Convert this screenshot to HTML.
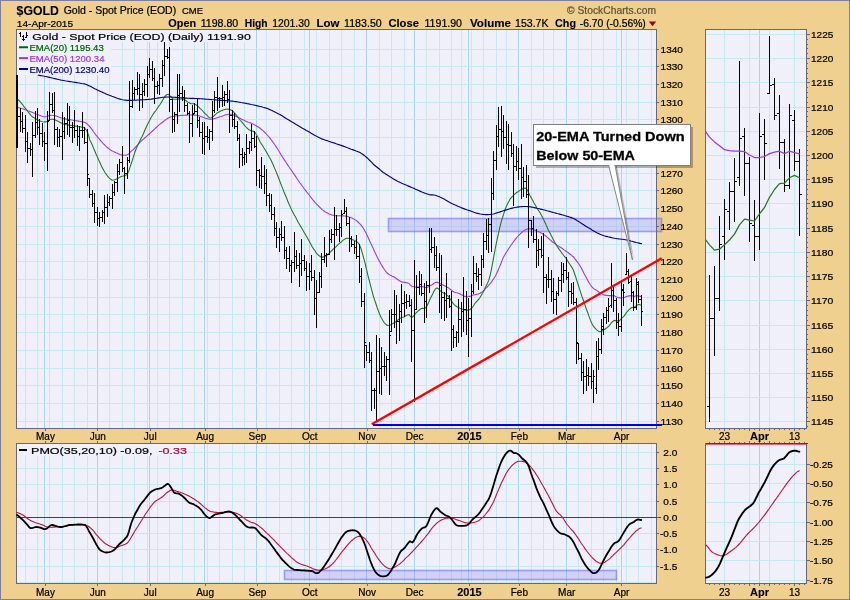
<!DOCTYPE html><html><head><meta charset="utf-8"><title>$GOLD Gold - Spot Price (EOD)</title><style>html,body{margin:0;padding:0;background:#efd08f;overflow:hidden}</style></head><body><svg width="850" height="600" viewBox="0 0 850 600" style="display:block;font-family:'Liberation Sans',sans-serif">
<rect x="0" y="0" width="850" height="600" fill="#7e7e9e"/>
<rect x="1" y="1" width="848" height="598" fill="#efd08f"/>
<rect x="16" y="29" width="641" height="400" fill="#f0f0fa" />
<rect x="16" y="443" width="641" height="141" fill="#f0f0fa" />
<rect x="705" y="29" width="102" height="400" fill="#f0f0fa" />
<rect x="705" y="443" width="102" height="141" fill="#f0f0fa" />
<rect x="25" y="30" width="1" height="398" fill="#c6e9f0" />
<rect x="37" y="30" width="1" height="398" fill="#c6e9f0" />
<rect x="49" y="30" width="1" height="398" fill="#c6e9f0" />
<rect x="62" y="30" width="1" height="398" fill="#c6e9f0" />
<rect x="74" y="30" width="1" height="398" fill="#c6e9f0" />
<rect x="87" y="30" width="1" height="398" fill="#c6e9f0" />
<rect x="97" y="30" width="1" height="398" fill="#c6e9f0" />
<rect x="109" y="30" width="1" height="398" fill="#c6e9f0" />
<rect x="122" y="30" width="1" height="398" fill="#c6e9f0" />
<rect x="134" y="30" width="1" height="398" fill="#c6e9f0" />
<rect x="147" y="30" width="1" height="398" fill="#c6e9f0" />
<rect x="157" y="30" width="1" height="398" fill="#c6e9f0" />
<rect x="169" y="30" width="1" height="398" fill="#c6e9f0" />
<rect x="182" y="30" width="1" height="398" fill="#c6e9f0" />
<rect x="194" y="30" width="1" height="398" fill="#c6e9f0" />
<rect x="207" y="30" width="1" height="398" fill="#c6e9f0" />
<rect x="219" y="30" width="1" height="398" fill="#c6e9f0" />
<rect x="232" y="30" width="1" height="398" fill="#c6e9f0" />
<rect x="244" y="30" width="1" height="398" fill="#c6e9f0" />
<rect x="256" y="30" width="1" height="398" fill="#c6e9f0" />
<rect x="266" y="30" width="1" height="398" fill="#c6e9f0" />
<rect x="279" y="30" width="1" height="398" fill="#c6e9f0" />
<rect x="291" y="30" width="1" height="398" fill="#c6e9f0" />
<rect x="304" y="30" width="1" height="398" fill="#c6e9f0" />
<rect x="316" y="30" width="1" height="398" fill="#c6e9f0" />
<rect x="329" y="30" width="1" height="398" fill="#c6e9f0" />
<rect x="341" y="30" width="1" height="398" fill="#c6e9f0" />
<rect x="354" y="30" width="1" height="398" fill="#c6e9f0" />
<rect x="366" y="30" width="1" height="398" fill="#c6e9f0" />
<rect x="379" y="30" width="1" height="398" fill="#c6e9f0" />
<rect x="391" y="30" width="1" height="398" fill="#c6e9f0" />
<rect x="404" y="30" width="1" height="398" fill="#c6e9f0" />
<rect x="414" y="30" width="1" height="398" fill="#c6e9f0" />
<rect x="426" y="30" width="1" height="398" fill="#c6e9f0" />
<rect x="439" y="30" width="1" height="398" fill="#c6e9f0" />
<rect x="451" y="30" width="1" height="398" fill="#c6e9f0" />
<rect x="461" y="30" width="1" height="398" fill="#c6e9f0" />
<rect x="471" y="30" width="1" height="398" fill="#c6e9f0" />
<rect x="483" y="30" width="1" height="398" fill="#c6e9f0" />
<rect x="496" y="30" width="1" height="398" fill="#c6e9f0" />
<rect x="506" y="30" width="1" height="398" fill="#c6e9f0" />
<rect x="518" y="30" width="1" height="398" fill="#c6e9f0" />
<rect x="531" y="30" width="1" height="398" fill="#c6e9f0" />
<rect x="543" y="30" width="1" height="398" fill="#c6e9f0" />
<rect x="553" y="30" width="1" height="398" fill="#c6e9f0" />
<rect x="566" y="30" width="1" height="398" fill="#c6e9f0" />
<rect x="578" y="30" width="1" height="398" fill="#c6e9f0" />
<rect x="591" y="30" width="1" height="398" fill="#c6e9f0" />
<rect x="603" y="30" width="1" height="398" fill="#c6e9f0" />
<rect x="616" y="30" width="1" height="398" fill="#c6e9f0" />
<rect x="626" y="30" width="1" height="398" fill="#c6e9f0" />
<rect x="638" y="30" width="1" height="398" fill="#c6e9f0" />
<rect x="651" y="30" width="1" height="398" fill="#c6e9f0" />
<rect x="44" y="30" width="1" height="398" fill="#a4d4ee" />
<rect x="97" y="30" width="1" height="398" fill="#a4d4ee" />
<rect x="149" y="30" width="1" height="398" fill="#a4d4ee" />
<rect x="204" y="30" width="1" height="398" fill="#a4d4ee" />
<rect x="256" y="30" width="1" height="398" fill="#a4d4ee" />
<rect x="309" y="30" width="1" height="398" fill="#a4d4ee" />
<rect x="366" y="30" width="1" height="398" fill="#a4d4ee" />
<rect x="414" y="30" width="1" height="398" fill="#a4d4ee" />
<rect x="468" y="30" width="1" height="398" fill="#a4d4ee" />
<rect x="518" y="30" width="1" height="398" fill="#a4d4ee" />
<rect x="566" y="30" width="1" height="398" fill="#a4d4ee" />
<rect x="621" y="30" width="1" height="398" fill="#a4d4ee" />
<rect x="25" y="444" width="1" height="139" fill="#c6e9f0" />
<rect x="37" y="444" width="1" height="139" fill="#c6e9f0" />
<rect x="49" y="444" width="1" height="139" fill="#c6e9f0" />
<rect x="62" y="444" width="1" height="139" fill="#c6e9f0" />
<rect x="74" y="444" width="1" height="139" fill="#c6e9f0" />
<rect x="87" y="444" width="1" height="139" fill="#c6e9f0" />
<rect x="97" y="444" width="1" height="139" fill="#c6e9f0" />
<rect x="109" y="444" width="1" height="139" fill="#c6e9f0" />
<rect x="122" y="444" width="1" height="139" fill="#c6e9f0" />
<rect x="134" y="444" width="1" height="139" fill="#c6e9f0" />
<rect x="147" y="444" width="1" height="139" fill="#c6e9f0" />
<rect x="157" y="444" width="1" height="139" fill="#c6e9f0" />
<rect x="169" y="444" width="1" height="139" fill="#c6e9f0" />
<rect x="182" y="444" width="1" height="139" fill="#c6e9f0" />
<rect x="194" y="444" width="1" height="139" fill="#c6e9f0" />
<rect x="207" y="444" width="1" height="139" fill="#c6e9f0" />
<rect x="219" y="444" width="1" height="139" fill="#c6e9f0" />
<rect x="232" y="444" width="1" height="139" fill="#c6e9f0" />
<rect x="244" y="444" width="1" height="139" fill="#c6e9f0" />
<rect x="256" y="444" width="1" height="139" fill="#c6e9f0" />
<rect x="266" y="444" width="1" height="139" fill="#c6e9f0" />
<rect x="279" y="444" width="1" height="139" fill="#c6e9f0" />
<rect x="291" y="444" width="1" height="139" fill="#c6e9f0" />
<rect x="304" y="444" width="1" height="139" fill="#c6e9f0" />
<rect x="316" y="444" width="1" height="139" fill="#c6e9f0" />
<rect x="329" y="444" width="1" height="139" fill="#c6e9f0" />
<rect x="341" y="444" width="1" height="139" fill="#c6e9f0" />
<rect x="354" y="444" width="1" height="139" fill="#c6e9f0" />
<rect x="366" y="444" width="1" height="139" fill="#c6e9f0" />
<rect x="379" y="444" width="1" height="139" fill="#c6e9f0" />
<rect x="391" y="444" width="1" height="139" fill="#c6e9f0" />
<rect x="404" y="444" width="1" height="139" fill="#c6e9f0" />
<rect x="414" y="444" width="1" height="139" fill="#c6e9f0" />
<rect x="426" y="444" width="1" height="139" fill="#c6e9f0" />
<rect x="439" y="444" width="1" height="139" fill="#c6e9f0" />
<rect x="451" y="444" width="1" height="139" fill="#c6e9f0" />
<rect x="461" y="444" width="1" height="139" fill="#c6e9f0" />
<rect x="471" y="444" width="1" height="139" fill="#c6e9f0" />
<rect x="483" y="444" width="1" height="139" fill="#c6e9f0" />
<rect x="496" y="444" width="1" height="139" fill="#c6e9f0" />
<rect x="506" y="444" width="1" height="139" fill="#c6e9f0" />
<rect x="518" y="444" width="1" height="139" fill="#c6e9f0" />
<rect x="531" y="444" width="1" height="139" fill="#c6e9f0" />
<rect x="543" y="444" width="1" height="139" fill="#c6e9f0" />
<rect x="553" y="444" width="1" height="139" fill="#c6e9f0" />
<rect x="566" y="444" width="1" height="139" fill="#c6e9f0" />
<rect x="578" y="444" width="1" height="139" fill="#c6e9f0" />
<rect x="591" y="444" width="1" height="139" fill="#c6e9f0" />
<rect x="603" y="444" width="1" height="139" fill="#c6e9f0" />
<rect x="616" y="444" width="1" height="139" fill="#c6e9f0" />
<rect x="626" y="444" width="1" height="139" fill="#c6e9f0" />
<rect x="638" y="444" width="1" height="139" fill="#c6e9f0" />
<rect x="651" y="444" width="1" height="139" fill="#c6e9f0" />
<rect x="44" y="444" width="1" height="139" fill="#a4d4ee" />
<rect x="97" y="444" width="1" height="139" fill="#a4d4ee" />
<rect x="149" y="444" width="1" height="139" fill="#a4d4ee" />
<rect x="204" y="444" width="1" height="139" fill="#a4d4ee" />
<rect x="256" y="444" width="1" height="139" fill="#a4d4ee" />
<rect x="309" y="444" width="1" height="139" fill="#a4d4ee" />
<rect x="366" y="444" width="1" height="139" fill="#a4d4ee" />
<rect x="414" y="444" width="1" height="139" fill="#a4d4ee" />
<rect x="468" y="444" width="1" height="139" fill="#a4d4ee" />
<rect x="518" y="444" width="1" height="139" fill="#a4d4ee" />
<rect x="566" y="444" width="1" height="139" fill="#a4d4ee" />
<rect x="621" y="444" width="1" height="139" fill="#a4d4ee" />
<rect x="17" y="421" width="639" height="1" fill="#c6e9f0" />
<rect x="17" y="403" width="639" height="1" fill="#c6e9f0" />
<rect x="17" y="385" width="639" height="1" fill="#c6e9f0" />
<rect x="17" y="368" width="639" height="1" fill="#c6e9f0" />
<rect x="17" y="350" width="639" height="1" fill="#c6e9f0" />
<rect x="17" y="332" width="639" height="1" fill="#c6e9f0" />
<rect x="17" y="314" width="639" height="1" fill="#c6e9f0" />
<rect x="17" y="297" width="639" height="1" fill="#c6e9f0" />
<rect x="17" y="279" width="639" height="1" fill="#c6e9f0" />
<rect x="17" y="261" width="639" height="1" fill="#c6e9f0" />
<rect x="17" y="244" width="639" height="1" fill="#c6e9f0" />
<rect x="17" y="226" width="639" height="1" fill="#c6e9f0" />
<rect x="17" y="208" width="639" height="1" fill="#c6e9f0" />
<rect x="17" y="190" width="639" height="1" fill="#c6e9f0" />
<rect x="17" y="173" width="639" height="1" fill="#c6e9f0" />
<rect x="17" y="155" width="639" height="1" fill="#c6e9f0" />
<rect x="17" y="137" width="639" height="1" fill="#c6e9f0" />
<rect x="17" y="119" width="639" height="1" fill="#c6e9f0" />
<rect x="17" y="102" width="639" height="1" fill="#c6e9f0" />
<rect x="17" y="84" width="639" height="1" fill="#c6e9f0" />
<rect x="17" y="66" width="639" height="1" fill="#c6e9f0" />
<rect x="17" y="49" width="639" height="1" fill="#c6e9f0" />
<rect x="17" y="452" width="639" height="1" fill="#c6e9f0" />
<rect x="17" y="468" width="639" height="1" fill="#c6e9f0" />
<rect x="17" y="484" width="639" height="1" fill="#c6e9f0" />
<rect x="17" y="501" width="639" height="1" fill="#c6e9f0" />
<rect x="17" y="533" width="639" height="1" fill="#c6e9f0" />
<rect x="17" y="549" width="639" height="1" fill="#c6e9f0" />
<rect x="17" y="566" width="639" height="1" fill="#c6e9f0" />
<rect x="17" y="582" width="639" height="1" fill="#c6e9f0" />
<rect x="724" y="30" width="1" height="398" fill="#c6e9f0" />
<rect x="749" y="30" width="1" height="398" fill="#c6e9f0" />
<rect x="769" y="30" width="1" height="398" fill="#c6e9f0" />
<rect x="794" y="30" width="1" height="398" fill="#c6e9f0" />
<rect x="759" y="30" width="1" height="398" fill="#a4d4ee" />
<rect x="724" y="444" width="1" height="139" fill="#c6e9f0" />
<rect x="749" y="444" width="1" height="139" fill="#c6e9f0" />
<rect x="769" y="444" width="1" height="139" fill="#c6e9f0" />
<rect x="794" y="444" width="1" height="139" fill="#c6e9f0" />
<rect x="759" y="444" width="1" height="139" fill="#a4d4ee" />
<rect x="706" y="421" width="100" height="1" fill="#c6e9f0" />
<rect x="706" y="397" width="100" height="1" fill="#c6e9f0" />
<rect x="706" y="373" width="100" height="1" fill="#c6e9f0" />
<rect x="706" y="349" width="100" height="1" fill="#c6e9f0" />
<rect x="706" y="325" width="100" height="1" fill="#c6e9f0" />
<rect x="706" y="300" width="100" height="1" fill="#c6e9f0" />
<rect x="706" y="276" width="100" height="1" fill="#c6e9f0" />
<rect x="706" y="252" width="100" height="1" fill="#c6e9f0" />
<rect x="706" y="228" width="100" height="1" fill="#c6e9f0" />
<rect x="706" y="203" width="100" height="1" fill="#c6e9f0" />
<rect x="706" y="179" width="100" height="1" fill="#c6e9f0" />
<rect x="706" y="155" width="100" height="1" fill="#c6e9f0" />
<rect x="706" y="131" width="100" height="1" fill="#c6e9f0" />
<rect x="706" y="107" width="100" height="1" fill="#c6e9f0" />
<rect x="706" y="82" width="100" height="1" fill="#c6e9f0" />
<rect x="706" y="58" width="100" height="1" fill="#c6e9f0" />
<rect x="706" y="34" width="100" height="1" fill="#c6e9f0" />
<rect x="706" y="464" width="100" height="1" fill="#c6e9f0" />
<rect x="706" y="483" width="100" height="1" fill="#c6e9f0" />
<rect x="706" y="502" width="100" height="1" fill="#c6e9f0" />
<rect x="706" y="522" width="100" height="1" fill="#c6e9f0" />
<rect x="706" y="541" width="100" height="1" fill="#c6e9f0" />
<rect x="706" y="560" width="100" height="1" fill="#c6e9f0" />
<rect x="706" y="580" width="100" height="1" fill="#c6e9f0" />
<rect x="17" y="30" width="236" height="12" fill="#f0f0fa" />
<rect x="17" y="42" width="94" height="33" fill="#f0f0fa" />
<rect x="17" y="444" width="172" height="12" fill="#f0f0fa" />
<rect x="388.5" y="218.5" width="273" height="13" fill="#8c8cf4" fill-opacity="0.30" stroke="#6c6cf0" stroke-opacity="0.6" stroke-width="1.6"/>
<rect x="284.5" y="570.5" width="332" height="9" fill="#8c8cf4" fill-opacity="0.30" stroke="#6c6cf0" stroke-opacity="0.6" stroke-width="1.6"/>
<rect x="16.5" y="29.5" width="640" height="399" fill="none" stroke="#666680" stroke-width="1"/>
<rect x="16.5" y="443.5" width="640" height="140" fill="none" stroke="#666680" stroke-width="1"/>
<rect x="705.5" y="29.5" width="101" height="399" fill="none" stroke="#666680" stroke-width="1"/>
<rect x="705.5" y="443.5" width="101" height="140" fill="none" stroke="#666680" stroke-width="1"/>
<polyline points="17.3,107.5 18.6,107.7 20.0,108.1 21.3,108.4 22.7,108.8 24.0,109.3 25.3,109.8 26.7,110.2 28.0,110.7 29.4,111.2 30.7,111.7 32.0,112.2 33.4,112.8 34.7,113.3 36.0,113.9 37.4,114.5 38.7,115.1 40.0,115.6 41.3,116.1 42.7,116.5 44.0,116.7 45.4,116.8 46.8,116.5 48.1,116.1 49.5,115.6 50.9,115.3 52.3,115.3 53.6,115.5 54.9,115.7 56.2,116.1 57.5,116.5 58.8,117.0 60.1,117.4 61.4,117.9 62.7,118.3 64.0,118.7 65.3,118.9 66.6,119.2 67.9,119.4 69.2,119.6 70.5,119.8 71.8,120.0 73.2,120.3 74.5,120.5 75.8,120.7 77.1,120.9 78.4,121.1 79.7,121.3 81.0,121.5 82.3,121.7 83.5,122.1 84.8,122.4 86.0,122.9 87.3,124.2 88.5,125.3 89.8,126.7 91.0,128.2 92.3,129.9 93.5,131.7 94.8,133.5 96.0,135.2 97.3,136.7 98.5,138.2 99.8,139.6 101.0,141.1 102.3,142.5 103.5,143.9 104.8,145.2 106.0,146.4 107.3,147.5 108.5,148.5 109.8,149.4 111.0,150.2 112.3,150.9 113.5,151.6 114.8,152.2 116.0,152.8 117.3,153.3 118.7,153.9 120.1,154.5 121.5,154.9 122.9,155.2 124.3,155.3 125.7,155.3 127.4,154.8 129.0,153.6 130.7,151.7 131.9,150.7 133.2,149.6 134.4,148.3 135.7,147.0 136.9,145.6 138.2,144.2 139.4,142.9 140.7,141.7 142.0,140.4 143.4,139.2 144.7,138.0 146.0,136.9 147.3,135.7 148.7,134.5 150.0,133.3 151.2,132.2 152.5,131.0 153.8,129.8 155.0,128.7 156.2,127.5 157.5,126.3 158.8,125.2 160.0,124.2 161.2,123.2 162.5,122.2 163.8,121.2 165.0,120.2 166.2,119.4 167.5,118.5 168.8,117.8 170.0,117.2 171.3,116.8 172.7,116.5 174.0,116.2 175.3,116.0 176.7,115.8 178.0,115.7 179.3,115.6 180.6,115.5 182.0,115.4 183.3,115.3 184.6,115.2 186.0,115.1 187.3,115.1 188.7,115.0 190.0,115.0 191.3,115.0 192.7,115.0 194.0,115.1 195.4,115.2 196.7,115.3 198.1,115.6 199.5,116.1 200.8,116.6 202.2,117.1 203.6,117.6 205.0,118.0 206.3,118.4 207.7,118.8 209.0,119.1 210.4,119.2 211.7,119.2 213.1,119.0 214.5,118.6 215.8,118.2 217.2,117.7 218.6,117.2 220.0,116.7 221.2,116.4 222.5,116.0 223.8,115.5 225.0,115.1 226.2,114.8 227.5,114.5 228.8,114.3 230.0,114.2 231.3,114.4 232.7,114.8 234.0,115.3 235.4,116.0 236.7,116.7 238.1,117.3 239.5,118.0 240.8,118.7 242.2,119.4 243.6,120.1 245.0,120.8 246.4,121.4 247.8,122.0 249.2,122.5 250.5,123.0 251.9,123.6 253.3,124.2 254.6,124.9 256.0,125.7 257.3,126.5 258.7,127.3 260.0,128.3 261.3,129.3 262.7,130.4 264.0,131.6 265.4,133.0 266.7,134.5 268.1,136.0 269.5,137.6 270.9,139.3 272.2,141.1 273.6,143.0 275.0,145.0 276.4,147.1 277.8,149.3 279.1,151.5 280.5,153.8 281.9,156.1 283.3,158.3 284.7,160.4 286.1,162.5 287.5,164.6 288.9,166.7 290.3,168.7 291.7,170.8 293.1,172.9 294.5,174.9 295.9,176.9 297.2,179.0 298.6,181.0 300.0,183.0 301.3,184.7 302.6,186.5 303.9,188.3 305.3,190.1 306.6,191.8 307.9,193.4 309.2,195.0 310.4,196.7 311.7,198.3 312.9,199.9 314.2,201.4 315.4,202.8 316.7,204.2 318.1,205.6 319.5,207.0 320.9,208.3 322.2,209.6 323.6,210.7 325.0,211.7 326.4,212.6 327.8,213.3 329.1,213.9 330.5,214.5 331.9,214.9 333.3,215.3 334.7,215.6 336.1,215.7 337.5,215.7 338.9,215.7 340.3,215.7 341.7,215.8 343.0,215.9 344.3,216.0 345.7,216.1 347.0,216.3 348.3,216.7 349.7,217.2 351.1,217.7 352.5,218.3 353.9,219.1 355.3,219.9 356.7,220.8 358.0,222.0 359.3,223.3 360.7,224.7 362.0,226.4 363.3,228.3 364.6,230.5 366.0,233.0 367.3,235.8 368.7,238.7 370.0,241.7 371.4,244.4 372.8,247.4 374.1,250.5 375.5,253.5 376.9,256.5 378.3,259.2 379.7,261.8 381.1,264.3 382.5,266.6 383.9,268.8 385.3,270.8 386.7,272.5 388.1,273.8 389.5,274.8 390.9,275.6 392.2,276.2 393.6,276.8 395.0,277.5 396.3,278.5 397.7,279.5 399.0,280.5 400.4,281.3 401.7,281.9 404.0,282.2 405.2,282.4 406.5,282.7 407.8,283.1 409.0,283.5 410.2,284.8 411.5,286.0 412.8,286.4 414.0,286.8 415.2,287.1 416.5,287.2 417.8,287.1 419.0,286.9 420.2,286.6 421.5,286.5 422.8,286.7 424.0,287.1 425.2,287.5 426.5,287.5 427.8,287.1 429.0,286.5 430.2,285.7 431.5,285.0 432.8,284.2 434.0,283.3 435.2,282.6 436.5,282.2 437.8,282.4 439.0,282.9 440.2,283.7 441.5,284.4 443.1,285.1 444.6,285.8 446.1,286.6 447.7,287.5 449.0,288.3 450.2,289.3 451.5,290.3 452.7,291.2 454.0,291.9 455.4,292.5 456.9,292.8 458.3,293.3 459.7,293.8 461.1,294.5 462.5,295.2 463.9,295.9 465.3,296.4 466.7,296.7 468.0,296.7 469.3,296.4 470.7,295.9 472.0,295.4 473.3,295.0 474.6,294.7 476.0,294.4 477.3,294.2 478.7,293.8 480.0,293.3 481.2,292.5 482.5,291.6 483.8,290.5 485.0,289.2 486.3,287.9 487.7,286.5 489.0,284.9 490.4,283.3 491.7,281.7 492.9,279.8 494.2,278.0 495.4,275.9 496.7,273.3 498.0,270.6 499.3,267.4 500.7,264.0 502.0,260.6 503.3,257.5 504.7,255.1 506.1,252.8 507.5,250.5 508.9,248.3 510.3,246.2 511.7,244.2 513.1,242.3 514.5,240.4 515.9,238.7 517.2,237.0 518.6,235.5 520.0,234.2 521.3,232.8 522.7,231.6 524.0,230.6 525.4,229.8 526.7,229.2 528.0,228.9 529.3,228.8 530.7,228.9 532.0,229.3 533.3,229.7 534.5,230.0 535.8,230.5 537.0,230.9 538.3,231.5 539.5,232.1 540.8,232.7 542.0,233.4 543.3,234.2 544.5,235.1 545.8,236.0 547.0,237.1 548.3,238.2 549.5,239.3 550.8,240.4 552.0,241.5 553.3,242.5 554.5,243.4 555.8,244.3 557.0,245.1 558.3,245.9 559.5,246.7 560.8,247.5 562.0,248.3 563.3,249.2 564.5,250.1 565.8,251.0 567.0,251.9 568.3,252.8 569.5,253.7 570.8,254.7 572.0,255.7 573.3,256.7 574.6,258.4 576.0,260.1 577.3,261.8 578.7,263.7 580.0,265.8 581.3,268.1 582.7,270.7 584.0,273.4 585.4,276.0 586.7,278.3 588.0,280.9 589.4,283.2 590.7,285.3 592.0,287.0 593.6,288.6 595.1,289.6 596.7,290.4 599.1,292.2 601.6,293.6 604.1,295.1 606.6,295.4 609.1,295.6 611.6,295.6 614.1,295.8 616.6,297.0 619.1,297.9 621.6,297.9 624.1,297.5 626.6,296.5 629.1,295.9 631.6,295.6 634.1,296.5 636.6,295.6 639.1,296.1 641.5,296.6" fill="none" stroke="#9a38ee" stroke-width="1.08" stroke-linejoin="round" stroke-linecap="round" />
<polyline points="17.3,99.2 18.6,100.2 20.0,101.5 21.3,103.2 22.7,104.9 24.0,106.7 25.4,108.3 26.8,110.0 28.1,111.8 29.5,113.6 30.9,115.3 32.3,116.7 33.6,117.5 34.9,118.3 36.2,119.1 37.5,119.8 38.8,120.5 40.1,121.0 41.4,121.5 42.7,121.8 44.0,122.0 45.4,121.9 46.8,121.4 48.1,120.6 49.5,119.9 50.9,119.3 52.3,119.2 53.6,119.4 54.9,119.8 56.2,120.4 57.5,121.0 58.8,121.7 60.1,122.4 61.4,123.1 62.7,123.7 64.0,124.2 65.2,124.5 66.5,124.7 67.8,124.9 69.0,125.1 70.2,125.3 71.5,125.5 72.8,125.7 74.0,125.9 75.2,126.1 76.5,126.3 77.8,126.5 79.0,126.7 80.2,126.8 81.5,127.1 82.8,127.3 84.0,127.5 85.7,129.3 87.3,131.7 88.5,135.1 89.8,140.0 91.0,142.3 92.3,145.0 93.5,148.0 94.8,151.0 96.0,154.0 97.3,156.7 98.6,159.8 100.0,162.8 101.3,165.7 102.7,168.4 104.0,170.8 105.3,173.0 106.7,174.9 108.0,176.7 109.4,178.1 110.7,179.2 112.3,180.3 114.0,180.0 115.3,179.6 116.7,178.9 118.0,178.2 119.4,177.4 120.7,176.7 122.0,176.3 123.3,176.0 124.7,175.6 126.0,175.1 127.3,174.2 129.0,170.4 130.7,165.0 131.9,161.6 133.2,157.6 134.4,153.6 135.7,150.0 136.9,147.1 138.2,144.6 139.4,142.1 140.7,139.0 142.1,136.4 143.5,133.5 144.8,130.3 146.2,127.2 147.6,124.3 149.0,121.7 150.3,119.0 151.7,116.6 153.0,114.4 154.4,112.4 155.7,110.8 157.0,108.8 158.3,106.7 159.7,105.0 161.1,102.8 162.5,100.4 163.9,98.0 165.3,96.0 166.7,94.7 168.3,94.3 170.0,95.8 171.7,97.6 173.3,99.2 174.6,99.3 175.8,99.3 177.1,99.3 178.3,99.2 179.6,99.0 180.8,99.0 182.1,99.0 183.3,99.2 184.6,99.8 186.0,100.7 187.3,101.7 188.7,102.6 190.0,103.3 191.2,103.7 192.5,103.7 193.8,103.8 195.0,104.2 196.2,104.9 197.5,105.9 198.8,107.0 200.0,108.3 201.3,109.5 202.7,111.0 204.0,112.5 205.4,113.9 206.7,115.0 208.1,116.6 209.4,117.7 210.8,118.0 212.3,117.3 213.8,116.0 215.2,114.6 216.7,113.3 218.0,112.5 219.3,111.8 220.7,111.1 222.0,110.5 223.3,110.0 224.6,109.5 225.8,109.2 227.1,109.1 228.3,109.2 229.6,109.5 230.8,109.9 232.1,110.6 233.3,111.7 234.6,113.0 236.0,114.6 237.3,116.3 238.7,118.2 240.0,120.0 241.4,121.5 242.8,123.2 244.2,124.9 245.5,126.5 246.9,128.0 248.3,129.2 249.6,130.1 251.0,130.7 252.3,131.0 253.7,131.6 255.0,132.5 256.2,134.3 257.5,136.6 258.8,139.1 260.0,141.7 261.3,143.7 262.7,145.8 264.0,148.0 265.4,150.2 266.7,152.5 268.0,154.8 269.3,157.2 270.7,159.6 272.0,162.2 273.3,165.0 274.6,168.1 276.0,171.4 277.3,174.8 278.7,178.3 280.0,181.7 281.3,185.1 282.7,188.6 284.0,192.0 285.4,195.3 286.7,198.3 287.9,201.6 289.2,204.4 290.4,207.1 291.7,210.0 293.0,212.4 294.3,214.9 295.7,217.3 297.0,219.9 298.3,222.5 299.7,224.8 301.1,227.1 302.5,229.5 303.9,231.9 305.3,234.3 306.7,236.7 308.1,239.2 309.5,241.7 310.9,244.3 312.2,246.7 313.6,248.9 315.0,250.8 316.2,252.9 317.5,254.4 318.8,255.5 320.0,256.3 321.2,256.9 322.5,257.1 323.8,256.9 325.0,256.3 326.4,255.5 327.8,254.5 329.1,253.2 330.5,251.9 331.9,250.5 333.3,249.2 334.7,247.9 336.1,246.6 337.5,245.2 338.9,243.9 340.3,242.7 341.7,241.7 342.9,240.4 344.2,239.4 345.4,238.7 346.7,238.3 348.0,238.3 349.3,238.5 350.7,238.9 352.0,239.4 353.3,240.0 354.8,240.7 356.2,241.4 357.7,242.5 359.2,244.2 360.6,247.5 361.9,251.6 363.3,256.7 364.6,261.3 365.8,266.4 367.1,271.8 368.3,277.0 369.6,281.8 370.8,286.6 372.1,291.3 373.3,296.0 374.6,299.9 376.0,304.0 377.3,308.0 378.7,311.8 380.0,315.0 381.3,317.8 382.7,320.2 384.0,322.3 385.4,323.9 386.7,325.0 388.0,325.5 389.3,325.4 390.7,324.8 392.0,324.1 393.3,323.3 394.7,322.5 396.1,321.5 397.5,320.3 398.9,319.2 400.3,318.2 401.7,317.5 404.0,316.9 405.2,316.3 406.5,315.4 407.8,314.7 409.0,314.4 410.2,316.1 411.5,317.5 412.8,316.8 414.0,315.4 415.2,313.9 416.5,312.5 417.8,311.4 419.0,310.2 420.2,309.3 421.5,308.5 423.0,308.3 424.4,308.5 425.9,307.5 427.3,305.3 428.7,302.3 430.1,299.0 431.5,296.2 432.8,293.7 434.0,291.2 435.2,289.2 436.5,288.1 437.8,288.2 439.0,289.3 440.2,290.7 441.5,291.9 443.1,292.7 444.6,293.4 446.1,294.3 447.7,295.6 449.0,297.1 450.2,299.0 451.5,301.0 452.7,302.9 454.0,304.4 455.5,305.8 457.0,306.8 458.5,307.6 460.0,308.3 461.2,308.8 462.5,309.3 463.8,309.7 465.0,310.0 466.2,310.2 467.5,310.3 468.9,310.0 470.3,309.3 471.7,308.3 473.4,306.0 475.0,303.3 476.2,302.0 477.5,300.7 478.8,299.2 480.0,297.5 481.2,295.5 482.5,293.3 483.8,290.9 485.0,288.3 486.2,285.8 487.5,283.2 488.8,280.1 490.0,276.0 491.2,270.4 492.5,263.7 493.8,256.6 495.0,250.0 496.2,243.8 497.5,237.8 498.8,232.0 500.0,226.7 501.2,221.9 502.5,217.6 503.8,213.6 505.0,210.0 506.2,206.8 507.5,204.0 508.8,201.5 510.0,199.2 511.3,197.6 512.7,196.1 514.0,194.8 515.4,193.6 516.7,192.5 518.0,191.7 519.3,190.8 520.6,189.9 521.9,189.2 523.2,188.6 524.5,188.3 525.8,188.3 527.2,189.8 528.6,192.6 530.0,195.8 531.3,197.9 532.7,200.3 534.0,202.9 535.4,205.3 536.7,207.5 538.0,209.7 539.2,211.5 540.5,213.4 541.7,215.8 543.0,218.2 544.3,221.0 545.7,223.9 547.0,227.0 548.3,230.0 549.7,232.6 551.1,235.2 552.5,238.0 553.9,240.7 555.3,243.3 556.7,245.8 558.0,247.6 559.2,249.4 560.5,251.1 561.7,252.8 563.0,254.5 564.2,256.1 565.5,257.7 566.7,259.2 568.0,261.5 569.3,263.5 570.7,265.5 572.0,267.6 573.3,270.0 574.5,273.5 575.8,277.2 577.0,281.2 578.3,285.0 579.5,288.9 580.8,292.8 582.0,296.6 583.3,300.0 585.0,305.1 586.7,310.0 588.0,313.3 589.2,316.9 590.5,320.4 591.7,323.3 593.4,326.1 595.0,328.2 596.7,329.8 599.1,331.7 601.6,331.4 604.1,329.8 606.6,328.0 609.1,325.9 611.6,322.5 614.1,320.4 616.6,320.7 619.1,321.1 621.6,318.4 624.1,316.1 626.6,312.4 629.1,309.6 631.6,307.5 634.1,307.3 636.6,305.3 639.1,304.4 641.5,305.3" fill="none" stroke="#1c7c1c" stroke-width="1.08" stroke-linejoin="round" stroke-linecap="round" />
<polyline points="38.2,75.3 39.5,75.4 40.7,75.6 42.0,75.8 43.3,76.0 44.5,76.3 45.8,76.5 47.1,76.8 48.3,77.1 49.6,77.4 50.9,77.7 52.2,78.0 53.4,78.3 54.7,78.6 56.0,78.9 57.2,79.2 58.5,79.5 59.8,79.8 61.0,80.1 62.3,80.3 63.6,80.5 64.9,80.8 66.2,81.0 67.5,81.2 68.8,81.4 70.1,81.6 71.4,81.8 72.7,82.0 74.0,82.2 75.3,82.4 76.6,82.6 77.9,82.8 79.2,83.0 80.5,83.2 81.8,83.5 83.1,83.7 84.4,83.9 85.7,84.2 87.0,84.8 88.3,85.4 89.6,86.0 90.9,86.6 92.1,87.3 93.4,88.0 94.7,88.7 96.0,89.3 97.3,90.0 98.6,90.6 100.0,91.2 101.3,91.8 102.7,92.4 104.0,93.0 105.3,93.6 106.7,94.2 108.0,94.7 109.4,95.3 110.7,95.8 112.0,96.3 113.4,96.8 114.7,97.3 116.0,97.8 117.3,98.3 118.7,98.7 120.0,99.1 121.3,99.5 122.7,99.8 124.0,100.0 125.2,100.1 126.5,100.3 127.8,100.3 129.0,100.3 130.2,100.3 131.5,100.3 132.8,100.3 134.0,100.2 135.2,100.2 136.5,100.1 137.8,100.0 139.0,100.0 140.4,99.9 141.8,99.9 143.1,99.8 144.5,99.7 145.9,99.6 147.2,99.5 148.6,99.4 150.0,99.2 151.3,99.1 152.6,98.9 153.9,98.7 155.1,98.5 156.4,98.3 157.7,98.1 159.0,97.9 160.3,97.7 161.6,97.5 162.8,97.3 164.1,97.2 165.4,97.1 166.7,97.0 168.0,97.0 169.3,97.0 170.5,97.0 171.8,97.1 173.1,97.2 174.4,97.3 175.6,97.4 176.9,97.5 178.2,97.6 179.5,97.7 180.7,97.8 182.0,97.9 183.3,98.0 184.6,98.1 185.9,98.1 187.2,98.2 188.4,98.2 189.7,98.3 191.0,98.3 192.3,98.4 193.6,98.4 194.9,98.5 196.1,98.5 197.4,98.6 198.7,98.6 200.0,98.7 201.3,98.8 202.6,98.9 203.9,99.0 205.1,99.1 206.4,99.2 207.7,99.3 209.0,99.4 210.3,99.5 211.6,99.6 212.8,99.7 214.1,99.8 215.4,99.9 216.7,100.0 218.0,100.1 219.3,100.2 220.5,100.3 221.8,100.3 223.1,100.4 224.4,100.5 225.6,100.6 226.9,100.7 228.2,100.8 229.5,100.9 230.7,101.0 232.0,101.1 233.3,101.3 234.6,101.5 235.9,101.6 237.2,101.8 238.4,102.0 239.7,102.2 241.0,102.5 242.3,102.7 243.6,102.9 244.9,103.2 246.1,103.4 247.4,103.7 248.7,103.9 250.0,104.2 251.3,104.5 252.6,104.7 253.9,105.0 255.1,105.3 256.4,105.6 257.7,105.9 259.0,106.2 260.3,106.5 261.6,106.8 262.8,107.2 264.1,107.5 265.4,107.9 266.7,108.3 268.0,108.8 269.4,109.4 270.7,110.0 272.0,110.6 273.4,111.3 274.7,111.9 276.0,112.6 277.3,113.2 278.7,113.9 280.0,114.5 281.2,115.3 282.5,116.1 283.8,116.9 285.0,117.7 286.2,118.5 287.5,119.3 288.8,120.0 290.0,120.8 291.2,121.6 292.5,122.3 293.8,123.0 295.0,123.8 296.2,124.5 297.5,125.2 298.8,126.0 300.0,126.7 301.2,127.4 302.5,128.2 303.8,128.9 305.0,129.6 306.2,130.4 307.5,131.1 308.8,131.8 310.0,132.5 311.2,133.2 312.5,133.9 313.8,134.7 315.0,135.4 316.2,136.1 317.5,136.8 318.8,137.4 320.0,138.0 321.2,138.6 322.5,139.1 323.8,139.5 325.0,140.0 326.2,140.4 327.5,140.8 328.8,141.3 330.0,141.7 331.2,142.1 332.5,142.5 333.8,142.9 335.0,143.3 336.2,143.8 337.5,144.2 338.8,144.6 340.0,145.0 341.2,145.4 342.5,145.9 343.8,146.4 345.0,146.8 346.2,147.3 347.5,147.8 348.8,148.2 350.0,148.7 351.2,149.2 352.5,149.6 353.8,150.1 355.0,150.5 356.2,151.0 357.5,151.5 358.8,152.0 360.0,152.5 361.3,153.4 362.7,154.3 364.0,155.3 365.4,156.4 366.7,157.5 368.0,158.7 369.3,160.0 370.7,161.3 372.0,162.7 373.3,164.2 374.6,165.2 375.8,166.2 377.1,167.2 378.3,168.2 379.6,169.3 380.8,170.4 382.1,171.5 383.3,172.5 384.6,173.3 386.0,174.2 387.3,175.0 388.7,175.9 390.0,176.8 391.3,177.6 392.7,178.4 394.0,179.2 395.4,180.0 396.7,180.8 397.9,181.4 399.2,182.0 400.4,182.6 401.7,183.2 402.9,183.7 404.2,184.2 405.4,184.8 406.7,185.3 407.9,185.9 409.2,186.4 410.4,186.9 411.7,187.5 413.0,188.0 414.3,188.6 415.5,189.2 416.8,189.7 418.1,190.3 419.4,190.9 420.6,191.4 421.9,192.0 423.2,192.5 424.5,193.0 425.7,193.5 427.0,193.9 428.3,194.2 429.7,194.7 431.1,194.9 432.5,194.9 433.9,195.0 435.3,195.2 436.7,195.8 438.0,196.2 439.3,196.7 440.5,197.3 441.8,197.9 443.1,198.6 444.4,199.3 445.6,200.1 446.9,200.8 448.2,201.5 449.5,202.2 450.7,202.9 452.0,203.6 453.3,204.2 454.6,204.8 455.9,205.3 457.2,205.9 458.4,206.5 459.7,207.0 461.0,207.6 462.3,208.1 463.6,208.6 464.9,209.1 466.1,209.5 467.4,210.0 468.7,210.4 470.0,210.8 471.3,211.3 472.6,211.8 473.9,212.3 475.2,212.7 476.5,213.1 477.8,213.4 479.1,213.7 480.4,214.0 481.7,214.2 482.9,214.4 484.2,214.5 485.4,214.6 486.7,214.6 487.9,214.6 489.2,214.5 490.4,214.4 491.7,214.2 493.0,214.0 494.3,213.7 495.6,213.3 496.9,212.9 498.1,212.5 499.4,212.1 500.7,211.6 502.0,211.2 503.3,210.8 504.6,210.4 505.9,210.0 507.2,209.6 508.5,209.2 509.8,208.8 511.1,208.4 512.4,208.1 513.7,207.8 515.0,207.5 516.3,207.3 517.6,207.1 518.9,206.9 520.2,206.7 521.5,206.6 522.8,206.5 524.1,206.5 525.4,206.5 526.7,206.5 528.0,206.6 529.2,206.7 530.5,206.9 531.7,207.1 533.0,207.3 534.2,207.6 535.5,207.9 536.7,208.3 538.0,208.5 539.3,208.8 540.5,209.1 541.8,209.4 543.1,209.7 544.4,210.0 545.6,210.3 546.9,210.7 548.2,211.0 549.5,211.4 550.7,211.7 552.0,212.1 553.3,212.5 554.5,212.8 555.8,213.1 557.0,213.5 558.3,213.8 559.5,214.1 560.8,214.4 562.0,214.8 563.3,215.1 564.5,215.5 565.8,215.9 567.0,216.2 568.3,216.6 569.5,217.0 570.8,217.4 572.0,217.9 573.3,218.3 574.6,219.0 576.0,219.8 577.3,220.7 578.7,221.5 580.0,222.4 581.3,223.3 582.7,224.2 584.0,225.0 585.4,225.9 586.7,226.7 588.0,227.5 589.4,228.3 590.7,229.1 592.0,229.9 593.4,230.7 594.7,231.5 596.0,232.3 597.3,233.0 598.7,233.6 600.0,234.2 601.3,234.7 602.7,235.2 604.0,235.7 605.3,236.1 606.6,236.4 608.0,236.8 609.3,237.1 610.6,237.4 612.0,237.7 613.3,238.0 614.6,238.3 616.0,238.5 617.3,238.7 618.7,238.9 620.0,239.0 621.3,239.2 622.7,239.3 624.0,239.5 625.4,239.7 626.7,240.0 628.0,240.3 629.4,240.6 630.7,241.0 632.1,241.3 633.4,241.7 634.8,242.1 636.1,242.5 637.5,242.8 638.8,243.1 640.2,243.4 641.5,243.6" fill="none" stroke="#00008c" stroke-width="1.15" stroke-linejoin="round" stroke-linecap="round" />
<path d="M17.5 75V148M16.5 75V148M16 82.5h1M18 116.5h1M20.5 108V132M19 116.5h1M21 121.5h1M22.5 112V133M21 121.5h1M23 128.5h1M25.5 115V152M24 128.5h1M26 141.5h1M27.5 132V163M26 141.5h1M28 148.5h1M30.5 143V156M29 148.5h1M31 149.5h1M32.5 122V177M31 149.5h1M33 135.5h1M35.5 111V138M34 135.5h1M36 122.5h1M37.5 108V135M36 122.5h1M38 127.5h1M39.5 119V145M38 127.5h1M40 133.5h1M42.5 123V147M41 133.5h1M43 141.5h1M44.5 132V161M43 141.5h1M45 143.5h1M47.5 111V171M46 143.5h1M48 121.5h1M49.5 92V121M48 120.5h1M50 104.5h1M52.5 93V113M51 104.5h1M53 110.5h1M54.5 92V145M53 110.5h1M55 129.5h1M57.5 127V147M56 129.5h1M58 137.5h1M59.5 129V147M58 137.5h1M60 136.5h1M62.5 112V160M61 136.5h1M63 131.5h1M64.5 117V139M63 131.5h1M65 123.5h1M67.5 103V135M66 123.5h1M68 120.5h1M69.5 106V137M68 120.5h1M70 127.5h1M72.5 122V143M71 127.5h1M73 127.5h1M74.5 110V138M73 127.5h1M75 130.5h1M77.5 125V146M76 130.5h1M78 136.5h1M79.5 126V151M78 136.5h1M80 130.5h1M82.5 112V138M81 130.5h1M83 130.5h1M84.5 127V144M83 130.5h1M85 142.5h1M87.5 129V186M86 142.5h1M88 174.5h1M89.5 178V198M88 178.5h1M90 194.5h1M92.5 190V207M91 194.5h1M93 203.5h1M94.5 193V223M93 203.5h1M95 212.5h1M97.5 207V226M96 212.5h1M98 218.5h1M99.5 212V227M98 218.5h1M100 217.5h1M102.5 210V222M101 217.5h1M103 212.5h1M104.5 195V224M103 212.5h1M105 207.5h1M107.5 194V217M106 207.5h1M108 202.5h1M109.5 196V206M108 202.5h1M110 198.5h1M112.5 184V209M111 198.5h1M113 192.5h1M114.5 181V196M113 192.5h1M115 182.5h1M117.5 164V192M116 182.5h1M118 171.5h1M119.5 159V175M118 171.5h1M120 162.5h1M122.5 146V172M121 162.5h1M123 168.5h1M124.5 167V194M123 168.5h1M125 173.5h1M127.5 157V179M126 173.5h1M128 160.5h1M129.5 81V163M128 160.5h1M130 106.5h1M132.5 80V108M131 106.5h1M133 93.5h1M134.5 87V100M133 93.5h1M135 89.5h1M137.5 72V95M136 89.5h1M138 88.5h1M139.5 74V111M138 88.5h1M140 94.5h1M142.5 83V108M141 94.5h1M143 91.5h1M144.5 79V96M143 91.5h1M145 84.5h1M147.5 66V97M146 84.5h1M148 74.5h1M149.5 58V78M148 74.5h1M150 69.5h1M152.5 61V81M151 69.5h1M153 78.5h1M154.5 68V104M153 78.5h1M155 86.5h1M157.5 81V94M156 86.5h1M158 85.5h1M159.5 74V95M158 85.5h1M160 78.5h1M162.5 60V87M161 78.5h1M163 65.5h1M164.5 42V76M163 65.5h1M165 56.5h1M167.5 49V59M166 56.5h1M168 57.5h1M169.5 47V112M168 57.5h1M170 99.5h1M172.5 99V133M171 99.5h1M173 119.5h1M174.5 112V132M173 119.5h1M175 114.5h1M177.5 74V124M176 114.5h1M178 95.5h1M179.5 74V112M178 95.5h1M180 93.5h1M182.5 86V101M181 93.5h1M183 97.5h1M184.5 90V112M183 97.5h1M185 105.5h1M187.5 103V115M186 105.5h1M188 113.5h1M189.5 111V143M188 113.5h1M190 123.5h1M192.5 105V137M191 123.5h1M193 114.5h1M194.5 103V114M193 113.5h1M195 111.5h1M197.5 98V128M196 111.5h1M198 120.5h1M199.5 117V137M198 120.5h1M200 132.5h1M202.5 122V154M201 132.5h1M203 138.5h1M204.5 122V155M203 138.5h1M205 136.5h1M207.5 126V143M206 136.5h1M208 137.5h1M209.5 129V150M208 137.5h1M210 131.5h1M212.5 101V141M211 131.5h1M213 110.5h1M214.5 91V113M213 110.5h1M215 97.5h1M217.5 77V111M216 97.5h1M218 98.5h1M219.5 97V108M218 98.5h1M220 98.5h1M222.5 85V107M221 98.5h1M223 97.5h1M224.5 91V106M223 97.5h1M225 94.5h1M227.5 81V103M226 94.5h1M228 99.5h1M229.5 90V133M228 99.5h1M230 115.5h1M232.5 110V127M231 115.5h1M233 119.5h1M234.5 113V129M233 119.5h1M235 126.5h1M237.5 121V141M236 126.5h1M238 138.5h1M239.5 134V168M238 138.5h1M240 154.5h1M242.5 148V166M241 154.5h1M243 157.5h1M244.5 152V165M243 157.5h1M245 154.5h1M246.5 134V163M245 154.5h1M247 148.5h1M249.5 141V154M248 148.5h1M250 142.5h1M251.5 124V151M250 142.5h1M252 138.5h1M254.5 131V148M253 138.5h1M255 146.5h1M256.5 136V186M255 146.5h1M257 170.5h1M259.5 169V188M258 170.5h1M260 175.5h1M261.5 157V189M260 175.5h1M262 176.5h1M264.5 165V194M263 176.5h1M265 183.5h1M266.5 169V206M265 183.5h1M267 195.5h1M269.5 193V212M268 195.5h1M270 205.5h1M271.5 194V220M270 205.5h1M272 214.5h1M274.5 207V236M273 214.5h1M275 228.5h1M276.5 222V248M275 228.5h1M277 237.5h1M279.5 228V252M278 237.5h1M280 234.5h1M281.5 221V241M280 234.5h1M282 237.5h1M284.5 226V259M283 237.5h1M285 250.5h1M286.5 247V269M285 250.5h1M287 258.5h1M289.5 246V272M288 258.5h1M290 265.5h1M291.5 260V283M290 265.5h1M292 262.5h1M294.5 232V272M293 262.5h1M295 256.5h1M296.5 250V269M295 256.5h1M297 265.5h1M299.5 253V287M298 265.5h1M300 263.5h1M301.5 239V276M300 263.5h1M302 260.5h1M304.5 255V271M303 260.5h1M305 268.5h1M306.5 261V291M305 268.5h1M307 276.5h1M309.5 263V290M308 276.5h1M310 271.5h1M311.5 255V281M310 271.5h1M312 277.5h1M314.5 270V315M313 277.5h1M315 298.5h1M316.5 280V328M315 298.5h1M317 292.5h1M319.5 272V293M318 292.5h1M320 276.5h1M321.5 253V288M320 276.5h1M322 259.5h1M324.5 237V263M323 259.5h1M325 255.5h1M326.5 253V267M325 255.5h1M327 254.5h1M329.5 230V255M328 254.5h1M330 239.5h1M331.5 229V243M330 239.5h1M332 234.5h1M334.5 207V260M333 234.5h1M335 229.5h1M336.5 215V236M335 229.5h1M337 229.5h1M339.5 223V242M338 229.5h1M340 227.5h1M341.5 210V237M340 227.5h1M342 214.5h1M344.5 199V214M343 213.5h1M345 211.5h1M346.5 207V226M345 211.5h1M347 223.5h1M349.5 217V252M348 223.5h1M350 238.5h1M351.5 236V247M350 238.5h1M352 244.5h1M354.5 241V254M353 244.5h1M355 247.5h1M356.5 235V259M355 247.5h1M357 256.5h1M359.5 244V283M358 256.5h1M360 276.5h1M361.5 268V307M360 276.5h1M362 301.5h1M364.5 293V368M363 301.5h1M365 342.5h1M366.5 345V361M365 345.5h1M367 352.5h1M369.5 342V363M368 352.5h1M370 360.5h1M371.5 352V411M370 360.5h1M372 390.5h1M374.5 388V409M373 390.5h1M375 390.5h1M376.5 335V421M375 390.5h1M377 371.5h1M379.5 338V394M378 371.5h1M380 368.5h1M381.5 347V395M380 368.5h1M382 366.5h1M384.5 352V376M383 366.5h1M385 366.5h1M386.5 356V381M385 366.5h1M387 359.5h1M389.5 310V395M388 359.5h1M390 335.5h1M391.5 309V332M390 331.5h1M392 314.5h1M394.5 290V328M393 314.5h1M395 314.5h1M396.5 295V344M395 314.5h1M397 321.5h1M399.5 304V341M398 321.5h1M400 311.5h1M401.5 284V323M400 311.5h1M402 303.5h1M404.5 291V317M403 303.5h1M405 302.5h1M406.5 294V309M405 302.5h1M407 301.5h1M409.5 295V307M408 301.5h1M410 305.5h1M411.5 299V362M410 305.5h1M412 330.5h1M414.5 260V402M413 330.5h1M415 309.5h1M416.5 275V310M415 309.5h1M417 287.5h1M419.5 271V295M418 287.5h1M420 284.5h1M421.5 274V296M420 284.5h1M422 293.5h1M424.5 283V323M423 293.5h1M425 301.5h1M426.5 281V318M425 301.5h1M427 285.5h1M429.5 228V293M428 285.5h1M430 249.5h1M431.5 228V253M430 249.5h1M432 247.5h1M434.5 237V268M433 247.5h1M435 255.5h1M436.5 246V271M435 255.5h1M437 267.5h1M439.5 253V313M438 267.5h1M440 285.5h1M441.5 255V319M440 285.5h1M442 297.5h1M444.5 292V321M443 297.5h1M445 300.5h1M446.5 273V318M445 300.5h1M447 298.5h1M449.5 295V308M448 298.5h1M450 306.5h1M451.5 291V351M450 306.5h1M452 329.5h1M453.5 325V348M452 329.5h1M454 337.5h1M456.5 331V347M455 337.5h1M457 332.5h1M458.5 299V343M457 332.5h1M459 319.5h1M461.5 302V337M460 319.5h1M462 311.5h1M463.5 277V332M462 311.5h1M464 309.5h1M466.5 291V335M465 309.5h1M467 320.5h1M468.5 298V357M467 320.5h1M469 318.5h1M471.5 284V337M470 318.5h1M472 291.5h1M473.5 256V294M472 291.5h1M474 273.5h1M476.5 263V282M475 273.5h1M477 276.5h1M478.5 268V290M477 276.5h1M479 274.5h1M481.5 255V286M480 274.5h1M482 259.5h1M483.5 233V268M482 259.5h1M484 241.5h1M486.5 219V250M485 241.5h1M487 235.5h1M488.5 218V253M487 235.5h1M489 224.5h1M491.5 178V252M490 224.5h1M492 193.5h1M493.5 151V200M492 193.5h1M494 160.5h1M496.5 125V170M495 160.5h1M497 136.5h1M498.5 107V147M497 136.5h1M499 129.5h1M501.5 106V157M500 129.5h1M502 131.5h1M503.5 115V149M502 131.5h1M504 137.5h1M506.5 121V164M505 137.5h1M507 144.5h1M508.5 124V170M507 144.5h1M509 145.5h1M511.5 132V157M510 145.5h1M512 153.5h1M513.5 144V206M512 153.5h1M514 166.5h1M516.5 146V171M515 166.5h1M517 161.5h1M518.5 148V180M517 161.5h1M519 168.5h1M521.5 144V199M520 168.5h1M522 177.5h1M523.5 167V197M522 177.5h1M524 181.5h1M526.5 165V198M525 181.5h1M527 194.5h1M528.5 175V248M527 194.5h1M529 220.5h1M531.5 220V236M530 220.5h1M532 228.5h1M533.5 216V243M532 228.5h1M534 239.5h1M536.5 229V268M535 239.5h1M537 250.5h1M538.5 239V266M537 250.5h1M539 249.5h1M541.5 236V258M540 249.5h1M542 255.5h1M543.5 233V293M542 255.5h1M544 277.5h1M546.5 274V304M545 277.5h1M547 279.5h1M548.5 257V288M547 279.5h1M549 279.5h1M551.5 270V302M550 279.5h1M552 291.5h1M553.5 278V314M552 291.5h1M554 299.5h1M556.5 291V315M555 299.5h1M557 293.5h1M558.5 277V296M557 293.5h1M559 280.5h1M561.5 262V292M560 280.5h1M562 274.5h1M563.5 263V283M562 274.5h1M564 270.5h1M566.5 257V280M565 270.5h1M567 277.5h1M568.5 272V307M567 277.5h1M569 291.5h1M571.5 283V304M570 291.5h1M572 293.5h1M573.5 282V305M572 293.5h1M574 302.5h1M576.5 298V364M575 302.5h1M577 342.5h1M578.5 343V360M577 343.5h1M579 358.5h1M581.5 353V381M580 358.5h1M582 372.5h1M583.5 361V394M582 372.5h1M584 376.5h1M586.5 359V391M585 376.5h1M587 375.5h1M588.5 367V386M587 375.5h1M589 376.5h1M591.5 363V389M590 376.5h1M592 381.5h1M593.5 370V403M592 381.5h1M594 376.5h1M596.5 341V394M595 388.5h1M597 356.5h1M598.5 338V370M597 356.5h1M599 349.5h1M601.5 319V354M600 349.5h1M602 329.5h1M603.5 313V335M602 326.5h1M604 317.5h1M606.5 307V324M605 317.5h1M607 310.5h1M608.5 298V322M607 310.5h1M609 306.5h1M611.5 263V308M610 305.5h1M612 290.5h1M613.5 287V312M612 290.5h1M614 300.5h1M616.5 298V329M615 300.5h1M617 322.5h1M618.5 313V336M617 322.5h1M619 326.5h1M621.5 282V332M620 326.5h1M622 290.5h1M623.5 284V306M622 289.5h1M624 292.5h1M626.5 253V275M625 274.5h1M627 271.5h1M628.5 269V284M627 271.5h1M629 282.5h1M631.5 275V302M630 281.5h1M632 292.5h1M633.5 291V311M632 292.5h1M634 307.5h1M636.5 278V310M635 307.5h1M637 282.5h1M638.5 281V303M637 284.5h1M639 299.5h1M641.5 295V326M640 299.5h1M642 311.5h1" stroke="#000" stroke-width="1" fill="none" shape-rendering="crispEdges"/>
<path d="M709.5 275V422M707 406.5h2M710 318.5h2M714.5 266V356M712 318.5h2M715 298.5h2M719.5 216V311M717 298.5h2M720 244.5h2M724.5 199V260M722 236.5h2M725 209.5h2M729.5 182V230M727 211.5h2M730 191.5h2M734.5 158V222M732 191.5h2M735 181.5h2M739.5 61V186M737 177.5h2M740 138.5h2M744.5 128V196M742 136.5h2M745 163.5h2M749.5 157V242M747 163.5h2M750 223.5h2M754.5 200V261M752 225.5h2M755 236.5h2M759.5 113V250M757 236.5h2M760 136.5h2M764.5 119V180M762 134.5h2M765 143.5h2M769.5 36V94M767 93.5h2M770 85.5h2M774.5 78V120M772 84.5h2M775 115.5h2M779.5 95V169M777 113.5h2M780 142.5h2M784.5 139V192M782 142.5h2M785 185.5h2M789.5 104V189M787 185.5h2M790 115.5h2M794.5 110V171M792 120.5h2M795 161.5h2M799.5 149V236M797 161.5h2M800 194.5h2" stroke="#000" stroke-width="1" fill="none" shape-rendering="crispEdges"/>
<clipPath id="zc"><rect x="706" y="30" width="100" height="398"/></clipPath>
<polyline points="705.5,131.3 709.5,137.1 714.5,141.9 719.5,145.8 724.5,149.7 729.5,150.7 734.5,151.2 739.5,151.2 744.5,151.6 749.5,155.0 754.5,157.5 759.5,157.5 764.5,156.5 769.5,153.6 774.5,152.1 779.5,151.2 784.5,153.6 789.5,151.2 794.5,152.6 799.5,153.9" fill="none" stroke="#9a38ee" stroke-width="1.25" stroke-linejoin="round" stroke-linecap="round" clip-path="url(#zc)"/>
<polyline points="705.5,239.5 709.5,244.8 714.5,250.2 719.5,249.2 724.5,244.8 729.5,240.0 734.5,234.1 739.5,224.9 744.5,219.1 749.5,220.1 754.5,221.0 759.5,213.8 764.5,207.5 769.5,197.3 774.5,189.5 779.5,183.7 784.5,183.2 789.5,177.8 794.5,175.4 799.5,177.7" fill="none" stroke="#1c7c1c" stroke-width="1.25" stroke-linejoin="round" stroke-linecap="round" clip-path="url(#zc)"/>
<line x1="371.7" y1="424.2" x2="661.7" y2="258.3" stroke="#ff0000" stroke-width="2.3" stroke-linecap="butt"/>
<rect x="373" y="424" width="289" height="2" fill="#0000ee" />
<rect x="17" y="517" width="644" height="1" fill="#cc0033" />
<polyline points="17.0,512.5 18.4,512.9 19.9,513.5 21.3,514.2 22.8,515.0 24.0,515.8 25.2,516.7 26.5,517.7 27.8,518.7 29.0,519.5 30.2,520.2 31.5,520.9 32.8,521.4 34.0,522.0 35.2,522.5 36.5,523.0 37.8,523.3 39.0,523.7 40.2,524.1 41.5,524.5 42.8,525.0 44.0,525.6 45.2,526.2 46.5,526.7 47.8,527.0 49.0,527.2 50.2,527.2 51.5,527.2 52.8,527.1 54.0,527.1 55.2,527.0 56.5,526.9 57.8,526.9 59.0,526.8 60.2,526.6 61.5,526.5 62.8,526.4 64.0,526.2 65.2,526.1 66.5,525.8 67.8,525.6 69.0,525.3 70.2,525.1 71.5,525.0 72.8,524.9 74.0,524.9 75.2,524.8 76.5,524.8 77.8,524.7 79.0,524.7 80.2,524.7 81.5,524.7 82.8,524.8 84.0,524.9 85.2,525.0 86.5,525.5 87.8,526.0 89.0,526.8 90.2,527.7 91.5,528.8 92.8,530.0 94.0,531.5 95.2,533.2 96.5,534.8 97.8,536.2 99.0,537.6 100.2,539.0 101.5,540.2 102.8,541.4 104.0,542.5 105.2,543.5 106.5,544.3 107.8,545.0 109.0,545.7 110.2,546.2 111.5,546.8 112.8,547.2 114.0,547.5 115.2,547.5 116.5,547.3 117.8,547.0 119.0,546.5 120.2,546.0 121.5,545.5 122.8,545.1 124.0,544.7 125.2,544.3 126.5,543.6 127.8,542.5 129.0,540.9 130.2,539.0 131.5,536.8 132.8,534.6 134.0,532.5 135.2,530.5 136.5,528.5 137.8,526.5 139.0,524.5 140.2,522.5 141.5,520.5 142.8,518.5 144.0,516.5 145.2,514.5 146.5,512.5 147.8,510.8 149.0,509.0 150.2,507.2 151.5,505.5 152.8,503.9 154.0,502.5 155.2,501.4 156.5,500.5 157.8,499.8 159.0,499.1 160.2,498.3 161.5,497.5 162.8,496.5 164.0,495.3 165.2,494.1 166.5,493.0 167.8,492.0 169.0,491.2 170.2,490.4 171.5,490.0 172.8,490.0 174.0,490.2 175.2,490.6 176.5,491.2 177.8,491.6 179.0,491.9 180.2,492.3 181.5,492.8 182.8,493.2 184.0,493.8 185.2,494.3 186.5,494.9 187.8,495.5 189.0,496.1 190.2,496.8 191.5,497.5 192.8,498.2 194.0,499.0 195.2,499.8 196.5,500.7 197.8,501.6 199.0,502.5 200.2,503.5 201.5,504.6 202.8,505.8 204.0,506.9 205.2,507.9 206.5,508.8 208.2,510.3 210.0,511.2 211.2,511.6 212.5,511.8 213.8,512.1 215.0,512.3 216.2,512.4 217.5,512.5 218.8,512.5 220.0,512.5 221.2,512.4 222.5,512.3 223.8,512.2 225.0,512.1 226.2,512.0 227.5,512.0 228.8,512.0 230.0,512.1 231.2,512.2 232.5,512.3 233.8,512.5 235.0,512.8 236.2,513.2 237.5,513.8 238.8,514.4 240.0,515.1 241.2,516.0 242.5,517.0 243.8,517.9 245.0,518.9 246.2,519.7 247.5,520.5 248.8,521.1 250.0,521.7 251.2,522.2 252.5,522.6 253.8,523.1 255.0,523.6 256.2,524.2 257.5,525.0 258.8,525.9 260.0,526.9 261.2,527.9 262.5,529.0 263.8,530.2 265.0,531.4 266.2,532.6 267.5,533.8 268.8,534.9 270.0,536.2 271.2,537.4 272.5,538.7 273.8,539.9 275.0,541.2 276.2,542.5 277.5,543.8 278.8,545.0 280.0,546.3 281.2,547.6 282.5,548.8 283.8,550.1 285.0,551.3 286.2,552.6 287.5,553.8 288.8,554.9 290.0,556.1 291.2,557.3 292.5,558.5 293.8,559.6 295.0,560.7 296.2,561.7 297.5,562.5 298.8,563.2 300.0,563.8 301.2,564.3 302.5,564.7 303.8,565.1 305.0,565.4 306.2,565.8 307.5,566.2 308.8,566.7 310.0,567.3 311.2,567.8 312.5,568.4 313.8,568.9 315.0,569.4 316.2,569.7 317.5,570.0 318.8,570.3 320.0,570.4 321.2,570.3 322.5,570.0 323.8,569.5 325.0,569.0 326.2,568.4 327.5,567.8 328.8,567.0 330.0,566.0 331.2,565.0 332.5,563.8 333.8,562.5 335.0,561.1 336.2,559.5 337.5,557.8 338.8,556.1 340.0,554.4 341.2,552.8 342.5,551.2 343.8,549.7 345.0,548.2 346.2,546.6 347.5,545.1 348.8,543.6 350.0,542.3 351.2,541.0 352.5,540.0 353.8,538.9 355.0,537.9 356.2,537.2 357.5,536.7 358.8,536.4 360.0,536.2 361.2,536.4 362.5,536.9 363.8,537.7 365.0,538.7 366.2,540.0 367.5,541.6 368.8,543.5 370.0,545.6 371.2,547.8 372.5,550.0 373.8,551.9 375.0,553.8 376.2,555.8 377.5,557.8 378.8,559.6 380.0,561.2 381.2,562.7 382.5,564.1 383.8,565.3 385.0,566.4 386.2,567.3 387.5,568.0 388.8,568.6 390.0,568.7 391.2,568.5 392.5,568.0 393.8,567.5 395.0,566.9 396.2,566.2 397.5,565.4 398.8,564.6 400.0,563.8 401.2,562.7 402.5,561.6 403.8,560.4 405.0,558.8 406.2,557.7 407.5,556.6 408.8,555.4 410.0,554.1 411.2,552.8 412.5,551.5 413.8,550.1 415.0,548.8 416.2,547.4 417.5,546.1 418.8,544.7 420.0,543.3 421.2,541.9 422.5,540.4 423.8,539.0 425.0,537.5 426.2,535.9 427.5,534.3 428.8,532.6 430.0,530.9 431.2,529.2 432.5,527.7 433.8,526.2 435.0,525.0 436.2,523.6 437.5,522.5 438.8,521.6 440.0,520.8 441.2,520.1 442.5,519.5 443.8,519.0 445.0,518.6 446.2,518.3 447.5,518.1 448.8,518.0 450.0,518.0 451.2,518.1 452.5,518.4 453.8,518.7 455.0,519.1 456.2,519.6 457.5,520.0 458.8,520.4 460.0,520.8 461.2,521.3 462.5,521.7 463.8,522.2 465.0,522.6 466.2,522.8 467.5,523.0 468.8,523.0 470.0,523.0 471.2,522.9 472.5,522.7 473.8,522.4 475.0,522.1 476.2,521.7 477.5,521.2 478.8,520.5 480.0,519.7 481.2,518.7 482.5,517.6 483.8,516.4 485.0,515.0 486.2,513.5 487.5,511.9 488.8,510.1 490.0,508.1 491.2,506.0 492.5,503.8 493.8,501.2 495.0,498.3 496.2,495.2 497.5,492.1 498.8,489.1 500.0,486.2 501.2,483.5 502.5,480.8 503.8,478.2 505.0,475.7 506.2,473.3 507.5,471.2 508.8,469.4 510.0,467.8 511.2,466.3 512.5,465.0 513.8,463.9 515.0,463.0 516.2,462.2 517.5,461.6 518.8,461.3 520.0,461.2 521.2,461.2 522.5,461.4 523.8,461.6 525.0,462.1 526.2,462.8 527.5,463.8 528.8,464.8 530.0,466.1 531.2,467.5 532.5,469.1 533.8,470.8 535.0,472.5 536.2,474.4 537.5,476.3 538.8,478.4 540.0,480.6 541.2,482.8 542.5,485.0 543.8,487.2 545.0,489.5 546.2,491.8 547.5,494.1 548.8,496.4 550.0,498.8 551.2,501.2 552.5,503.8 553.8,506.4 555.0,508.8 556.2,510.9 557.5,512.5 558.8,513.7 560.0,514.5 561.2,515.8 562.5,517.4 563.8,519.3 565.0,521.3 566.2,523.3 567.5,525.0 568.8,526.5 570.0,528.0 571.2,529.3 572.5,530.7 573.8,532.2 575.0,533.8 576.2,535.5 577.5,537.4 578.8,539.3 580.0,541.2 581.2,543.2 582.5,545.0 583.8,546.8 585.0,548.6 586.2,550.3 587.5,552.0 588.8,553.6 590.0,555.0 591.2,556.6 592.5,558.0 593.8,559.2 595.0,560.3 596.2,561.2 597.5,562.1 598.8,562.8 600.0,563.1 601.2,563.2 602.5,563.1 603.8,562.8 605.0,562.2 606.2,561.2 607.5,560.4 608.8,559.4 610.0,558.3 611.2,557.0 612.5,555.8 613.8,554.5 615.0,553.4 616.2,552.3 617.5,551.1 618.8,549.9 620.0,548.7 621.2,547.5 622.5,546.2 623.8,544.8 625.0,543.3 626.2,541.8 627.5,540.3 628.8,538.9 630.0,537.5 631.2,536.1 632.5,534.7 633.8,533.3 635.0,532.0 636.2,530.9 637.5,530.0 638.8,528.9 640.0,528.3 641.2,528.0" fill="none" stroke="#c01040" stroke-width="1.1" stroke-linejoin="round" stroke-linecap="round" />
<polyline points="17.0,515.0 18.5,515.9 20.0,517.3 21.5,518.8 22.8,519.9 24.0,521.2 25.2,522.5 26.5,523.8 27.8,525.4 29.0,527.0 30.2,528.0 31.5,528.1 32.8,527.9 34.0,527.5 35.2,527.2 36.5,527.0 37.8,527.1 39.0,527.4 40.2,527.7 41.5,528.0 42.8,528.6 44.0,529.2 45.2,529.2 46.5,528.7 47.8,527.7 49.0,526.6 50.2,525.6 51.5,525.0 52.8,524.9 54.0,525.3 55.2,525.8 56.5,526.1 57.8,526.5 59.0,526.8 60.2,527.0 61.5,527.0 62.8,526.8 64.0,526.5 65.2,526.2 66.5,525.8 67.8,525.3 69.0,525.0 70.2,524.9 71.5,524.9 72.8,524.8 74.0,524.7 75.2,524.6 76.5,524.6 77.8,524.5 79.0,524.5 80.2,524.5 81.5,524.5 82.8,524.6 84.0,524.8 85.2,525.0 86.5,526.5 87.8,528.8 89.0,531.2 90.2,533.3 91.5,535.5 92.8,537.8 94.0,540.0 95.2,542.3 96.5,544.7 97.8,546.9 99.0,548.8 100.2,550.0 101.5,550.9 102.8,551.5 104.0,552.0 105.2,552.3 106.5,552.5 107.8,552.4 109.0,552.2 110.2,551.9 111.5,551.5 112.8,550.8 114.0,550.0 115.2,548.8 116.5,547.4 117.8,545.9 119.0,544.5 120.2,543.3 121.5,542.2 122.8,541.1 124.0,540.0 125.2,538.6 126.5,537.2 127.8,535.0 129.0,531.3 130.2,526.7 131.5,522.5 132.8,519.3 134.0,516.5 135.2,513.8 136.5,511.5 137.8,509.2 139.0,507.0 140.2,505.0 141.5,503.3 142.8,501.7 144.0,500.3 145.2,498.8 146.5,497.1 147.8,495.4 149.0,493.8 150.2,492.5 151.5,491.5 152.8,490.7 154.0,490.1 155.2,489.5 156.5,489.1 157.8,488.8 159.0,488.6 160.2,488.3 161.5,488.0 162.8,487.2 164.0,486.3 165.2,485.5 166.5,484.3 167.8,483.8 169.0,484.5 170.2,486.2 171.5,488.2 172.8,490.6 174.0,492.5 175.2,493.1 176.5,493.3 177.8,493.4 179.0,493.8 180.2,494.5 181.5,495.4 182.8,496.4 184.0,497.5 185.2,498.7 186.5,500.1 187.8,501.4 189.0,502.5 190.2,503.2 191.5,503.5 192.8,503.9 194.0,504.5 195.2,505.2 196.5,505.9 197.8,506.8 199.0,507.7 200.2,508.8 201.5,510.2 202.8,512.0 204.0,513.6 205.2,515.0 206.5,516.4 207.8,517.3 209.0,518.0 210.0,518.0 211.2,517.3 212.5,516.3 213.8,515.3 215.0,514.5 216.2,514.1 217.5,513.9 218.8,513.6 220.0,513.4 221.2,513.2 222.5,513.0 223.8,512.6 225.0,512.2 226.2,511.8 227.5,511.6 228.8,511.5 230.0,511.7 231.2,512.1 232.5,512.8 233.8,513.8 235.0,514.7 236.2,515.9 237.5,517.3 238.8,518.6 240.0,520.0 241.2,521.2 242.5,522.5 243.8,523.8 245.0,525.1 246.2,526.2 247.5,527.0 248.8,527.4 250.0,527.6 251.2,527.5 252.5,527.4 253.8,527.6 255.0,528.0 256.2,529.0 257.5,530.5 258.8,532.1 260.0,533.6 261.2,535.0 262.5,536.0 263.8,536.9 265.0,537.7 266.2,538.7 267.5,540.0 268.8,541.4 270.0,543.0 271.2,544.7 272.5,546.5 273.8,548.3 275.0,550.0 276.2,551.7 277.5,553.4 278.8,555.1 280.0,556.8 281.2,558.4 282.5,560.0 283.8,561.2 285.0,562.5 286.2,563.7 287.5,564.9 288.8,566.1 290.0,567.1 291.2,568.0 292.5,568.8 293.8,569.6 295.0,569.9 296.2,569.9 297.5,570.0 298.8,570.1 300.0,570.2 301.2,570.3 302.5,570.3 303.8,570.4 305.0,570.5 306.2,570.6 307.5,570.7 308.8,570.8 310.0,570.9 311.2,571.0 312.5,571.2 313.8,572.0 315.0,572.8 316.2,573.2 317.5,573.2 318.8,572.7 320.0,571.2 321.2,570.1 322.5,568.6 323.8,566.9 325.0,565.1 326.2,563.2 327.5,561.2 328.8,559.3 330.0,557.3 331.2,555.2 332.5,553.0 333.8,550.9 335.0,548.8 336.2,546.6 337.5,544.3 338.8,542.0 340.0,539.9 341.2,537.9 342.5,536.2 343.8,534.4 345.0,533.0 346.2,532.0 347.5,531.2 348.8,530.8 350.0,530.5 351.2,530.3 352.5,530.2 353.8,530.3 355.0,530.5 356.2,531.0 357.5,531.8 358.8,532.9 360.0,534.5 361.2,536.6 362.5,539.1 363.8,541.9 365.0,545.0 366.2,548.5 367.5,552.5 368.8,556.4 370.0,560.0 371.2,563.2 372.5,566.3 373.8,569.0 375.0,571.2 376.2,572.9 377.5,574.2 378.8,575.1 380.0,575.8 381.2,576.2 382.5,576.4 383.8,576.4 385.0,576.2 386.2,575.9 387.5,575.3 388.8,573.8 390.0,572.2 391.2,570.4 392.5,568.2 393.8,566.0 395.0,563.8 396.2,560.9 397.5,557.8 398.8,554.9 400.0,552.5 401.2,550.8 402.5,549.7 403.8,548.7 405.0,547.5 406.2,545.8 407.5,544.0 408.8,542.3 410.0,541.2 411.2,542.0 412.5,542.5 413.8,540.9 415.0,538.6 416.2,536.0 417.5,533.8 418.8,532.0 420.0,530.4 421.2,529.1 422.5,528.0 423.8,527.5 425.0,527.4 426.2,526.2 427.5,524.0 428.8,520.9 430.0,517.7 431.2,515.0 432.5,512.8 433.8,510.7 435.0,509.1 436.2,508.2 437.5,508.5 438.8,509.8 440.0,511.2 441.2,512.2 442.5,513.2 443.8,514.1 445.0,515.0 446.2,515.6 447.5,516.0 448.8,516.6 450.0,517.5 451.2,518.8 452.5,520.5 453.8,522.2 455.0,523.9 456.2,525.0 457.5,525.7 458.8,525.9 460.0,525.8 461.2,525.8 462.5,525.8 463.8,525.8 465.0,525.7 466.2,525.5 467.5,525.0 468.8,524.0 470.0,522.6 471.2,521.0 472.5,519.5 473.8,518.4 475.0,517.4 476.2,516.3 477.5,515.1 478.8,513.8 480.0,512.2 481.2,510.5 482.5,508.6 483.8,506.8 485.0,505.0 486.2,503.0 487.5,501.1 488.8,499.0 490.0,496.2 491.2,492.7 492.5,488.5 493.8,484.2 495.0,480.0 496.2,476.0 497.5,472.1 498.8,468.4 500.0,465.0 501.2,462.0 502.5,459.3 503.8,457.0 505.0,455.0 506.2,453.3 507.5,452.0 508.8,451.0 510.0,450.5 511.2,450.9 512.5,452.0 513.8,453.0 515.0,453.2 516.2,453.2 517.5,453.8 518.8,454.7 520.0,456.0 521.2,457.4 522.5,458.8 523.8,459.8 525.0,460.7 526.2,461.9 527.5,463.8 528.8,466.5 530.0,469.9 531.2,473.7 532.5,477.5 533.8,480.7 535.0,484.1 536.2,487.6 537.5,490.9 538.8,493.8 540.0,496.7 541.2,499.1 542.5,501.3 543.8,503.8 545.0,506.5 546.2,509.3 547.5,512.2 548.8,515.0 550.0,517.9 551.2,520.9 552.5,523.8 553.8,526.2 555.0,528.0 556.2,529.5 557.5,530.9 558.8,532.1 560.0,533.0 561.2,533.7 562.5,533.9 563.8,534.1 565.0,534.5 566.2,535.1 567.5,535.7 568.8,536.4 570.0,537.4 571.2,538.8 572.5,540.5 573.8,542.7 575.0,545.1 576.2,547.6 577.5,550.0 578.8,552.5 580.0,555.1 581.2,557.8 582.5,560.3 583.8,562.5 585.0,564.5 586.2,566.3 587.5,567.9 588.8,569.3 590.0,570.5 591.4,572.0 592.8,573.0 594.2,573.2 595.8,572.9 597.2,571.8 598.8,570.0 600.0,567.9 601.2,565.3 602.5,562.6 603.8,560.0 605.0,557.7 606.2,555.5 607.5,553.3 608.8,551.2 610.0,549.2 611.2,547.1 612.5,545.3 613.8,543.8 615.0,542.8 616.2,542.3 617.5,541.8 618.8,540.8 620.0,539.0 621.2,536.9 622.5,534.6 623.8,532.5 625.0,530.5 626.2,528.4 627.5,526.5 628.8,525.0 630.0,523.9 631.2,523.2 632.5,522.6 633.8,522.0 635.0,521.0 636.2,520.1 637.5,519.5 638.8,519.5 640.0,519.8 641.2,520.0" fill="none" stroke="#000" stroke-width="1.8" stroke-linejoin="round" stroke-linecap="round" />
<rect x="706" y="443" width="102" height="1" fill="#cc0033" />
<rect x="706" y="444" width="100" height="1" fill="#dc6080" />
<polyline points="706.0,545.0 707.4,546.3 708.8,548.1 710.2,550.1 711.7,551.7 713.0,552.6 714.3,553.4 715.7,554.0 717.0,554.6 718.3,555.0 719.6,555.5 720.8,555.8 722.1,555.9 723.3,555.7 724.7,555.2 726.0,554.5 727.3,553.7 728.7,552.7 730.0,551.7 731.4,550.7 732.8,549.8 734.2,548.7 735.6,547.6 736.9,546.3 738.3,545.0 739.7,543.5 741.1,541.9 742.5,540.1 743.9,538.3 745.3,536.6 746.7,535.0 748.1,533.5 749.4,532.2 750.8,530.8 752.2,529.5 753.6,528.1 755.0,526.7 756.4,525.1 757.8,523.5 759.2,521.9 760.6,520.2 761.9,518.4 763.3,516.7 764.7,514.8 766.1,512.9 767.5,510.9 768.9,509.0 770.3,507.0 771.7,505.0 773.1,503.1 774.4,501.1 775.8,499.2 777.2,497.2 778.6,495.3 780.0,493.3 781.4,491.3 782.8,489.3 784.2,487.2 785.6,485.3 786.9,483.4 788.3,481.7 789.7,479.8 791.0,478.1 792.3,476.6 793.7,475.2 795.0,474.0 796.4,472.4 797.9,471.4 799.3,470.7" fill="none" stroke="#c01040" stroke-width="1.1" stroke-linejoin="round" stroke-linecap="round" />
<polyline points="706.0,577.7 707.4,577.3 708.8,576.9 710.2,576.1 711.7,575.0 713.0,573.8 714.3,572.4 715.7,570.8 717.0,568.9 718.3,566.7 719.7,564.1 721.0,561.1 722.3,558.0 723.7,554.8 725.0,551.7 726.3,548.7 727.7,545.7 729.0,542.8 730.3,539.8 731.7,536.7 733.0,533.3 734.3,529.8 735.7,526.3 737.0,522.9 738.3,520.0 739.7,517.5 741.0,515.4 742.3,513.4 743.7,511.7 745.0,510.0 746.4,508.7 747.8,507.7 749.2,506.7 750.6,505.7 751.9,504.6 753.3,503.3 754.6,501.1 755.8,498.6 757.1,496.0 758.3,493.3 759.7,491.1 761.0,488.9 762.3,486.5 763.7,484.1 765.0,481.7 766.3,479.0 767.7,476.2 769.0,473.3 770.3,470.7 771.7,468.3 773.0,466.4 774.3,464.6 775.7,463.1 777.0,461.8 778.3,460.7 779.8,459.8 781.2,459.4 782.6,459.0 784.0,458.3 785.3,457.0 786.7,455.3 788.0,453.6 789.3,452.3 790.8,451.5 792.2,451.1 793.6,450.8 795.0,450.7 796.4,450.8 797.9,451.3 799.3,451.7" fill="none" stroke="#000" stroke-width="1.9" stroke-linejoin="round" stroke-linecap="round" />
<rect x="657" y="421" width="2" height="1" fill="#666680" />
<rect x="657" y="403" width="2" height="1" fill="#666680" />
<rect x="657" y="385" width="2" height="1" fill="#666680" />
<rect x="657" y="368" width="2" height="1" fill="#666680" />
<rect x="657" y="350" width="2" height="1" fill="#666680" />
<rect x="657" y="332" width="2" height="1" fill="#666680" />
<rect x="657" y="314" width="2" height="1" fill="#666680" />
<rect x="657" y="297" width="2" height="1" fill="#666680" />
<rect x="657" y="279" width="2" height="1" fill="#666680" />
<rect x="657" y="261" width="2" height="1" fill="#666680" />
<rect x="657" y="244" width="2" height="1" fill="#666680" />
<rect x="657" y="226" width="2" height="1" fill="#666680" />
<rect x="657" y="208" width="2" height="1" fill="#666680" />
<rect x="657" y="190" width="2" height="1" fill="#666680" />
<rect x="657" y="173" width="2" height="1" fill="#666680" />
<rect x="657" y="155" width="2" height="1" fill="#666680" />
<rect x="657" y="137" width="2" height="1" fill="#666680" />
<rect x="657" y="119" width="2" height="1" fill="#666680" />
<rect x="657" y="102" width="2" height="1" fill="#666680" />
<rect x="657" y="84" width="2" height="1" fill="#666680" />
<rect x="657" y="66" width="2" height="1" fill="#666680" />
<rect x="657" y="49" width="2" height="1" fill="#666680" />
<rect x="657" y="452" width="2" height="1" fill="#666680" />
<rect x="657" y="468" width="2" height="1" fill="#666680" />
<rect x="657" y="484" width="2" height="1" fill="#666680" />
<rect x="657" y="501" width="2" height="1" fill="#666680" />
<rect x="657" y="517" width="2" height="1" fill="#666680" />
<rect x="657" y="533" width="2" height="1" fill="#666680" />
<rect x="657" y="549" width="2" height="1" fill="#666680" />
<rect x="657" y="566" width="2" height="1" fill="#666680" />
<rect x="807" y="421" width="3" height="1" fill="#666680" />
<rect x="807" y="397" width="3" height="1" fill="#666680" />
<rect x="807" y="373" width="3" height="1" fill="#666680" />
<rect x="807" y="349" width="3" height="1" fill="#666680" />
<rect x="807" y="325" width="3" height="1" fill="#666680" />
<rect x="807" y="300" width="3" height="1" fill="#666680" />
<rect x="807" y="276" width="3" height="1" fill="#666680" />
<rect x="807" y="252" width="3" height="1" fill="#666680" />
<rect x="807" y="228" width="3" height="1" fill="#666680" />
<rect x="807" y="203" width="3" height="1" fill="#666680" />
<rect x="807" y="179" width="3" height="1" fill="#666680" />
<rect x="807" y="155" width="3" height="1" fill="#666680" />
<rect x="807" y="131" width="3" height="1" fill="#666680" />
<rect x="807" y="107" width="3" height="1" fill="#666680" />
<rect x="807" y="82" width="3" height="1" fill="#666680" />
<rect x="807" y="58" width="3" height="1" fill="#666680" />
<rect x="807" y="34" width="3" height="1" fill="#666680" />
<rect x="807" y="426" width="1" height="1" fill="#666680" />
<rect x="807" y="417" width="1" height="1" fill="#666680" />
<rect x="807" y="412" width="1" height="1" fill="#666680" />
<rect x="807" y="407" width="1" height="1" fill="#666680" />
<rect x="807" y="402" width="1" height="1" fill="#666680" />
<rect x="807" y="392" width="1" height="1" fill="#666680" />
<rect x="807" y="388" width="1" height="1" fill="#666680" />
<rect x="807" y="383" width="1" height="1" fill="#666680" />
<rect x="807" y="378" width="1" height="1" fill="#666680" />
<rect x="807" y="368" width="1" height="1" fill="#666680" />
<rect x="807" y="363" width="1" height="1" fill="#666680" />
<rect x="807" y="359" width="1" height="1" fill="#666680" />
<rect x="807" y="354" width="1" height="1" fill="#666680" />
<rect x="807" y="344" width="1" height="1" fill="#666680" />
<rect x="807" y="339" width="1" height="1" fill="#666680" />
<rect x="807" y="334" width="1" height="1" fill="#666680" />
<rect x="807" y="329" width="1" height="1" fill="#666680" />
<rect x="807" y="320" width="1" height="1" fill="#666680" />
<rect x="807" y="315" width="1" height="1" fill="#666680" />
<rect x="807" y="310" width="1" height="1" fill="#666680" />
<rect x="807" y="305" width="1" height="1" fill="#666680" />
<rect x="807" y="296" width="1" height="1" fill="#666680" />
<rect x="807" y="291" width="1" height="1" fill="#666680" />
<rect x="807" y="286" width="1" height="1" fill="#666680" />
<rect x="807" y="281" width="1" height="1" fill="#666680" />
<rect x="807" y="271" width="1" height="1" fill="#666680" />
<rect x="807" y="266" width="1" height="1" fill="#666680" />
<rect x="807" y="262" width="1" height="1" fill="#666680" />
<rect x="807" y="257" width="1" height="1" fill="#666680" />
<rect x="807" y="247" width="1" height="1" fill="#666680" />
<rect x="807" y="242" width="1" height="1" fill="#666680" />
<rect x="807" y="237" width="1" height="1" fill="#666680" />
<rect x="807" y="233" width="1" height="1" fill="#666680" />
<rect x="807" y="223" width="1" height="1" fill="#666680" />
<rect x="807" y="218" width="1" height="1" fill="#666680" />
<rect x="807" y="213" width="1" height="1" fill="#666680" />
<rect x="807" y="208" width="1" height="1" fill="#666680" />
<rect x="807" y="199" width="1" height="1" fill="#666680" />
<rect x="807" y="194" width="1" height="1" fill="#666680" />
<rect x="807" y="189" width="1" height="1" fill="#666680" />
<rect x="807" y="184" width="1" height="1" fill="#666680" />
<rect x="807" y="174" width="1" height="1" fill="#666680" />
<rect x="807" y="170" width="1" height="1" fill="#666680" />
<rect x="807" y="165" width="1" height="1" fill="#666680" />
<rect x="807" y="160" width="1" height="1" fill="#666680" />
<rect x="807" y="150" width="1" height="1" fill="#666680" />
<rect x="807" y="145" width="1" height="1" fill="#666680" />
<rect x="807" y="140" width="1" height="1" fill="#666680" />
<rect x="807" y="136" width="1" height="1" fill="#666680" />
<rect x="807" y="126" width="1" height="1" fill="#666680" />
<rect x="807" y="121" width="1" height="1" fill="#666680" />
<rect x="807" y="116" width="1" height="1" fill="#666680" />
<rect x="807" y="111" width="1" height="1" fill="#666680" />
<rect x="807" y="102" width="1" height="1" fill="#666680" />
<rect x="807" y="97" width="1" height="1" fill="#666680" />
<rect x="807" y="92" width="1" height="1" fill="#666680" />
<rect x="807" y="87" width="1" height="1" fill="#666680" />
<rect x="807" y="78" width="1" height="1" fill="#666680" />
<rect x="807" y="73" width="1" height="1" fill="#666680" />
<rect x="807" y="68" width="1" height="1" fill="#666680" />
<rect x="807" y="63" width="1" height="1" fill="#666680" />
<rect x="807" y="53" width="1" height="1" fill="#666680" />
<rect x="807" y="48" width="1" height="1" fill="#666680" />
<rect x="807" y="44" width="1" height="1" fill="#666680" />
<rect x="807" y="39" width="1" height="1" fill="#666680" />
<rect x="807" y="464" width="3" height="1" fill="#666680" />
<rect x="807" y="483" width="3" height="1" fill="#666680" />
<rect x="807" y="502" width="3" height="1" fill="#666680" />
<rect x="807" y="522" width="3" height="1" fill="#666680" />
<rect x="807" y="541" width="3" height="1" fill="#666680" />
<rect x="807" y="560" width="3" height="1" fill="#666680" />
<rect x="807" y="580" width="3" height="1" fill="#666680" />
<rect x="45" y="429" width="1" height="2" fill="#666680" />
<rect x="45" y="584" width="1" height="2" fill="#666680" />
<rect x="45" y="441" width="1" height="2" fill="#666680" />
<rect x="97" y="429" width="1" height="2" fill="#666680" />
<rect x="97" y="584" width="1" height="2" fill="#666680" />
<rect x="97" y="441" width="1" height="2" fill="#666680" />
<rect x="150" y="429" width="1" height="2" fill="#666680" />
<rect x="150" y="584" width="1" height="2" fill="#666680" />
<rect x="150" y="441" width="1" height="2" fill="#666680" />
<rect x="205" y="429" width="1" height="2" fill="#666680" />
<rect x="205" y="584" width="1" height="2" fill="#666680" />
<rect x="205" y="441" width="1" height="2" fill="#666680" />
<rect x="257" y="429" width="1" height="2" fill="#666680" />
<rect x="257" y="584" width="1" height="2" fill="#666680" />
<rect x="257" y="441" width="1" height="2" fill="#666680" />
<rect x="309" y="429" width="1" height="2" fill="#666680" />
<rect x="309" y="584" width="1" height="2" fill="#666680" />
<rect x="309" y="441" width="1" height="2" fill="#666680" />
<rect x="367" y="429" width="1" height="2" fill="#666680" />
<rect x="367" y="584" width="1" height="2" fill="#666680" />
<rect x="367" y="441" width="1" height="2" fill="#666680" />
<rect x="414" y="429" width="1" height="2" fill="#666680" />
<rect x="414" y="584" width="1" height="2" fill="#666680" />
<rect x="414" y="441" width="1" height="2" fill="#666680" />
<rect x="469" y="429" width="1" height="2" fill="#666680" />
<rect x="469" y="584" width="1" height="2" fill="#666680" />
<rect x="469" y="441" width="1" height="2" fill="#666680" />
<rect x="519" y="429" width="1" height="2" fill="#666680" />
<rect x="519" y="584" width="1" height="2" fill="#666680" />
<rect x="519" y="441" width="1" height="2" fill="#666680" />
<rect x="566" y="429" width="1" height="2" fill="#666680" />
<rect x="566" y="584" width="1" height="2" fill="#666680" />
<rect x="566" y="441" width="1" height="2" fill="#666680" />
<rect x="621" y="429" width="1" height="2" fill="#666680" />
<rect x="621" y="584" width="1" height="2" fill="#666680" />
<rect x="621" y="441" width="1" height="2" fill="#666680" />
<rect x="709" y="429" width="1" height="1" fill="#666680" />
<rect x="709" y="442" width="1" height="1" fill="#666680" />
<rect x="709" y="584" width="1" height="1" fill="#666680" />
<rect x="714" y="429" width="1" height="1" fill="#666680" />
<rect x="714" y="442" width="1" height="1" fill="#666680" />
<rect x="714" y="584" width="1" height="1" fill="#666680" />
<rect x="719" y="429" width="1" height="1" fill="#666680" />
<rect x="719" y="442" width="1" height="1" fill="#666680" />
<rect x="719" y="584" width="1" height="1" fill="#666680" />
<rect x="724" y="429" width="1" height="2" fill="#666680" />
<rect x="724" y="441" width="1" height="2" fill="#666680" />
<rect x="724" y="584" width="1" height="2" fill="#666680" />
<rect x="729" y="429" width="1" height="1" fill="#666680" />
<rect x="729" y="442" width="1" height="1" fill="#666680" />
<rect x="729" y="584" width="1" height="1" fill="#666680" />
<rect x="734" y="429" width="1" height="1" fill="#666680" />
<rect x="734" y="442" width="1" height="1" fill="#666680" />
<rect x="734" y="584" width="1" height="1" fill="#666680" />
<rect x="739" y="429" width="1" height="1" fill="#666680" />
<rect x="739" y="442" width="1" height="1" fill="#666680" />
<rect x="739" y="584" width="1" height="1" fill="#666680" />
<rect x="744" y="429" width="1" height="1" fill="#666680" />
<rect x="744" y="442" width="1" height="1" fill="#666680" />
<rect x="744" y="584" width="1" height="1" fill="#666680" />
<rect x="749" y="429" width="1" height="2" fill="#666680" />
<rect x="749" y="441" width="1" height="2" fill="#666680" />
<rect x="749" y="584" width="1" height="2" fill="#666680" />
<rect x="754" y="429" width="1" height="1" fill="#666680" />
<rect x="754" y="442" width="1" height="1" fill="#666680" />
<rect x="754" y="584" width="1" height="1" fill="#666680" />
<rect x="759" y="429" width="1" height="2" fill="#666680" />
<rect x="759" y="441" width="1" height="2" fill="#666680" />
<rect x="759" y="584" width="1" height="2" fill="#666680" />
<rect x="764" y="429" width="1" height="1" fill="#666680" />
<rect x="764" y="442" width="1" height="1" fill="#666680" />
<rect x="764" y="584" width="1" height="1" fill="#666680" />
<rect x="769" y="429" width="1" height="2" fill="#666680" />
<rect x="769" y="441" width="1" height="2" fill="#666680" />
<rect x="769" y="584" width="1" height="2" fill="#666680" />
<rect x="774" y="429" width="1" height="1" fill="#666680" />
<rect x="774" y="442" width="1" height="1" fill="#666680" />
<rect x="774" y="584" width="1" height="1" fill="#666680" />
<rect x="779" y="429" width="1" height="1" fill="#666680" />
<rect x="779" y="442" width="1" height="1" fill="#666680" />
<rect x="779" y="584" width="1" height="1" fill="#666680" />
<rect x="784" y="429" width="1" height="1" fill="#666680" />
<rect x="784" y="442" width="1" height="1" fill="#666680" />
<rect x="784" y="584" width="1" height="1" fill="#666680" />
<rect x="789" y="429" width="1" height="1" fill="#666680" />
<rect x="789" y="442" width="1" height="1" fill="#666680" />
<rect x="789" y="584" width="1" height="1" fill="#666680" />
<rect x="794" y="429" width="1" height="2" fill="#666680" />
<rect x="794" y="441" width="1" height="2" fill="#666680" />
<rect x="794" y="584" width="1" height="2" fill="#666680" />
<rect x="799" y="429" width="1" height="1" fill="#666680" />
<rect x="799" y="442" width="1" height="1" fill="#666680" />
<rect x="799" y="584" width="1" height="1" fill="#666680" />
<rect x="804" y="429" width="1" height="1" fill="#666680" />
<rect x="804" y="442" width="1" height="1" fill="#666680" />
<rect x="804" y="584" width="1" height="1" fill="#666680" />
<text x="660.6" y="158.8" font-size="9.2" textLength="22.3" lengthAdjust="spacingAndGlyphs">1280</text>
<text x="660.6" y="140.8" font-size="9.2" textLength="22.3" lengthAdjust="spacingAndGlyphs">1290</text>
<g>
<rect x="536" y="127" width="157" height="41" fill="#000" fill-opacity="0.28"/>
<polygon points="610.5,166 617,166 634.5,262" fill="#000" fill-opacity="0.25"/>
<polygon points="608.5,165 615,165 632.5,260" fill="#fff" stroke="#888" stroke-width="1"/>
<rect x="533.5" y="124.5" width="157" height="41" fill="#fff" stroke="#808080" stroke-width="1"/>
<rect x="609.3" y="164" width="5" height="2" fill="#fff"/>
</g>
<polygon points="648.8,21.6 656.2,21.6 652.5,26.3" fill="#a00020"/>
<rect x="20" y="32" width="1" height="5" fill="#000" />
<rect x="19" y="33" width="1" height="1" fill="#000" />
<rect x="23" y="35" width="1" height="6" fill="#000" />
<rect x="22" y="36" width="1" height="1" fill="#000" />
<rect x="22" y="39" width="3" height="1" fill="#000" />
<rect x="26" y="32" width="1" height="6" fill="#000" />
<rect x="27" y="35" width="1" height="1" fill="#000" />
<rect x="25" y="37" width="1" height="1" fill="#000" />
<rect x="19" y="46.25" width="9" height="2" fill="#006400" />
<rect x="19" y="57.1" width="9" height="2" fill="#9a38ee" />
<rect x="19" y="68" width="9" height="2" fill="#00008c" />
<rect x="19" y="449" width="8" height="2" fill="#000" />
<filter id="f" x="0" y="0" width="850" height="600" filterUnits="userSpaceOnUse"><feOffset dx="0" dy="0"/></filter>
<g filter="url(#f)"><text x="660.6" y="424.8" font-size="9.2" fill="#000" textLength="22.3023" lengthAdjust="spacingAndGlyphs"  stroke="#000" stroke-width="0.22">1130</text><text x="660.6" y="406.8" font-size="9.2" fill="#000" textLength="22.3023" lengthAdjust="spacingAndGlyphs"  stroke="#000" stroke-width="0.22">1140</text><text x="660.6" y="388.8" font-size="9.2" fill="#000" textLength="22.3023" lengthAdjust="spacingAndGlyphs"  stroke="#000" stroke-width="0.22">1150</text><text x="660.6" y="371.8" font-size="9.2" fill="#000" textLength="22.3023" lengthAdjust="spacingAndGlyphs"  stroke="#000" stroke-width="0.22">1160</text><text x="660.6" y="353.8" font-size="9.2" fill="#000" textLength="22.3023" lengthAdjust="spacingAndGlyphs"  stroke="#000" stroke-width="0.22">1170</text><text x="660.6" y="335.8" font-size="9.2" fill="#000" textLength="22.3023" lengthAdjust="spacingAndGlyphs"  stroke="#000" stroke-width="0.22">1180</text><text x="660.6" y="317.8" font-size="9.2" fill="#000" textLength="22.3023" lengthAdjust="spacingAndGlyphs"  stroke="#000" stroke-width="0.22">1190</text><text x="660.6" y="300.8" font-size="9.2" fill="#000" textLength="22.3023" lengthAdjust="spacingAndGlyphs"  stroke="#000" stroke-width="0.22">1200</text><text x="660.6" y="282.8" font-size="9.2" fill="#000" textLength="22.3023" lengthAdjust="spacingAndGlyphs"  stroke="#000" stroke-width="0.22">1210</text><text x="660.6" y="264.8" font-size="9.2" fill="#000" textLength="22.3023" lengthAdjust="spacingAndGlyphs"  stroke="#000" stroke-width="0.22">1220</text><text x="660.6" y="247.8" font-size="9.2" fill="#000" textLength="22.3023" lengthAdjust="spacingAndGlyphs"  stroke="#000" stroke-width="0.22">1230</text><text x="660.6" y="229.8" font-size="9.2" fill="#000" textLength="22.3023" lengthAdjust="spacingAndGlyphs"  stroke="#000" stroke-width="0.22">1240</text><text x="660.6" y="211.8" font-size="9.2" fill="#000" textLength="22.3023" lengthAdjust="spacingAndGlyphs"  stroke="#000" stroke-width="0.22">1250</text><text x="660.6" y="193.8" font-size="9.2" fill="#000" textLength="22.3023" lengthAdjust="spacingAndGlyphs"  stroke="#000" stroke-width="0.22">1260</text><text x="660.6" y="176.8" font-size="9.2" fill="#000" textLength="22.3023" lengthAdjust="spacingAndGlyphs"  stroke="#000" stroke-width="0.22">1270</text><text x="660.6" y="122.8" font-size="9.2" fill="#000" textLength="22.3023" lengthAdjust="spacingAndGlyphs"  stroke="#000" stroke-width="0.22">1300</text><text x="660.6" y="105.8" font-size="9.2" fill="#000" textLength="22.3023" lengthAdjust="spacingAndGlyphs"  stroke="#000" stroke-width="0.22">1310</text><text x="660.6" y="87.8" font-size="9.2" fill="#000" textLength="22.3023" lengthAdjust="spacingAndGlyphs"  stroke="#000" stroke-width="0.22">1320</text><text x="660.6" y="69.8" font-size="9.2" fill="#000" textLength="22.3023" lengthAdjust="spacingAndGlyphs"  stroke="#000" stroke-width="0.22">1330</text><text x="660.6" y="52.8" font-size="9.2" fill="#000" textLength="22.3023" lengthAdjust="spacingAndGlyphs"  stroke="#000" stroke-width="0.22">1340</text><text x="663.361" y="455.8" font-size="9.2" fill="#000" textLength="13.9389" lengthAdjust="spacingAndGlyphs"  stroke="#000" stroke-width="0.22">2.0</text><text x="663.361" y="471.8" font-size="9.2" fill="#000" textLength="13.9389" lengthAdjust="spacingAndGlyphs"  stroke="#000" stroke-width="0.22">1.5</text><text x="663.361" y="487.8" font-size="9.2" fill="#000" textLength="13.9389" lengthAdjust="spacingAndGlyphs"  stroke="#000" stroke-width="0.22">1.0</text><text x="663.361" y="504.8" font-size="9.2" fill="#000" textLength="13.9389" lengthAdjust="spacingAndGlyphs"  stroke="#000" stroke-width="0.22">0.5</text><text x="663.361" y="520.8" font-size="9.2" fill="#000" textLength="13.9389" lengthAdjust="spacingAndGlyphs"  stroke="#000" stroke-width="0.22">0.0</text><text x="660.022" y="536.8" font-size="9.2" fill="#000" textLength="17.2782" lengthAdjust="spacingAndGlyphs"  stroke="#000" stroke-width="0.22">-0.5</text><text x="660.022" y="552.8" font-size="9.2" fill="#000" textLength="17.2782" lengthAdjust="spacingAndGlyphs"  stroke="#000" stroke-width="0.22">-1.0</text><text x="660.022" y="569.8" font-size="9.2" fill="#000" textLength="17.2782" lengthAdjust="spacingAndGlyphs"  stroke="#000" stroke-width="0.22">-1.5</text><text x="811" y="424.8" font-size="9.2" fill="#000" textLength="22.3023" lengthAdjust="spacingAndGlyphs"  stroke="#000" stroke-width="0.22">1145</text><text x="811" y="400.8" font-size="9.2" fill="#000" textLength="22.3023" lengthAdjust="spacingAndGlyphs"  stroke="#000" stroke-width="0.22">1150</text><text x="811" y="376.8" font-size="9.2" fill="#000" textLength="22.3023" lengthAdjust="spacingAndGlyphs"  stroke="#000" stroke-width="0.22">1155</text><text x="811" y="352.8" font-size="9.2" fill="#000" textLength="22.3023" lengthAdjust="spacingAndGlyphs"  stroke="#000" stroke-width="0.22">1160</text><text x="811" y="328.8" font-size="9.2" fill="#000" textLength="22.3023" lengthAdjust="spacingAndGlyphs"  stroke="#000" stroke-width="0.22">1165</text><text x="811" y="303.8" font-size="9.2" fill="#000" textLength="22.3023" lengthAdjust="spacingAndGlyphs"  stroke="#000" stroke-width="0.22">1170</text><text x="811" y="279.8" font-size="9.2" fill="#000" textLength="22.3023" lengthAdjust="spacingAndGlyphs"  stroke="#000" stroke-width="0.22">1175</text><text x="811" y="255.8" font-size="9.2" fill="#000" textLength="22.3023" lengthAdjust="spacingAndGlyphs"  stroke="#000" stroke-width="0.22">1180</text><text x="811" y="231.8" font-size="9.2" fill="#000" textLength="22.3023" lengthAdjust="spacingAndGlyphs"  stroke="#000" stroke-width="0.22">1185</text><text x="811" y="206.8" font-size="9.2" fill="#000" textLength="22.3023" lengthAdjust="spacingAndGlyphs"  stroke="#000" stroke-width="0.22">1190</text><text x="811" y="182.8" font-size="9.2" fill="#000" textLength="22.3023" lengthAdjust="spacingAndGlyphs"  stroke="#000" stroke-width="0.22">1195</text><text x="811" y="158.8" font-size="9.2" fill="#000" textLength="22.3023" lengthAdjust="spacingAndGlyphs"  stroke="#000" stroke-width="0.22">1200</text><text x="811" y="134.8" font-size="9.2" fill="#000" textLength="22.3023" lengthAdjust="spacingAndGlyphs"  stroke="#000" stroke-width="0.22">1205</text><text x="811" y="110.8" font-size="9.2" fill="#000" textLength="22.3023" lengthAdjust="spacingAndGlyphs"  stroke="#000" stroke-width="0.22">1210</text><text x="811" y="85.8" font-size="9.2" fill="#000" textLength="22.3023" lengthAdjust="spacingAndGlyphs"  stroke="#000" stroke-width="0.22">1215</text><text x="811" y="61.8" font-size="9.2" fill="#000" textLength="22.3023" lengthAdjust="spacingAndGlyphs"  stroke="#000" stroke-width="0.22">1220</text><text x="811" y="37.8" font-size="9.2" fill="#000" textLength="22.3023" lengthAdjust="spacingAndGlyphs"  stroke="#000" stroke-width="0.22">1225</text><text x="810" y="467.8" font-size="9.2" fill="#000" textLength="22.8538" lengthAdjust="spacingAndGlyphs"  stroke="#000" stroke-width="0.22">-0.25</text><text x="810" y="486.8" font-size="9.2" fill="#000" textLength="22.8538" lengthAdjust="spacingAndGlyphs"  stroke="#000" stroke-width="0.22">-0.50</text><text x="810" y="505.8" font-size="9.2" fill="#000" textLength="22.8538" lengthAdjust="spacingAndGlyphs"  stroke="#000" stroke-width="0.22">-0.75</text><text x="810" y="525.8" font-size="9.2" fill="#000" textLength="22.8538" lengthAdjust="spacingAndGlyphs"  stroke="#000" stroke-width="0.22">-1.00</text><text x="810" y="544.8" font-size="9.2" fill="#000" textLength="22.8538" lengthAdjust="spacingAndGlyphs"  stroke="#000" stroke-width="0.22">-1.25</text><text x="810" y="563.8" font-size="9.2" fill="#000" textLength="22.8538" lengthAdjust="spacingAndGlyphs"  stroke="#000" stroke-width="0.22">-1.50</text><text x="810" y="583.8" font-size="9.2" fill="#000" textLength="22.8538" lengthAdjust="spacingAndGlyphs"  stroke="#000" stroke-width="0.22">-1.75</text><text x="45.479" y="440" font-size="10" fill="#000" text-anchor="middle"  stroke="#000" stroke-width="0.22">May</text><text x="45.479" y="596" font-size="10" fill="#000" text-anchor="middle"  stroke="#000" stroke-width="0.22">May</text><text x="97.853" y="440" font-size="10" fill="#000" text-anchor="middle"  stroke="#000" stroke-width="0.22">Jun</text><text x="97.853" y="596" font-size="10" fill="#000" text-anchor="middle"  stroke="#000" stroke-width="0.22">Jun</text><text x="150.227" y="440" font-size="10" fill="#000" text-anchor="middle"  stroke="#000" stroke-width="0.22">Jul</text><text x="150.227" y="596" font-size="10" fill="#000" text-anchor="middle"  stroke="#000" stroke-width="0.22">Jul</text><text x="205.095" y="440" font-size="10" fill="#000" text-anchor="middle"  stroke="#000" stroke-width="0.22">Aug</text><text x="205.095" y="596" font-size="10" fill="#000" text-anchor="middle"  stroke="#000" stroke-width="0.22">Aug</text><text x="257.469" y="440" font-size="10" fill="#000" text-anchor="middle"  stroke="#000" stroke-width="0.22">Sep</text><text x="257.469" y="596" font-size="10" fill="#000" text-anchor="middle"  stroke="#000" stroke-width="0.22">Sep</text><text x="309.843" y="440" font-size="10" fill="#000" text-anchor="middle"  stroke="#000" stroke-width="0.22">Oct</text><text x="309.843" y="596" font-size="10" fill="#000" text-anchor="middle"  stroke="#000" stroke-width="0.22">Oct</text><text x="367.205" y="440" font-size="10" fill="#000" text-anchor="middle"  stroke="#000" stroke-width="0.22">Nov</text><text x="367.205" y="596" font-size="10" fill="#000" text-anchor="middle"  stroke="#000" stroke-width="0.22">Nov</text><text x="414.591" y="440" font-size="10" fill="#000" text-anchor="middle"  stroke="#000" stroke-width="0.22">Dec</text><text x="414.591" y="596" font-size="10" fill="#000" text-anchor="middle"  stroke="#000" stroke-width="0.22">Dec</text><text x="469.459" y="440" font-size="11" fill="#000" font-weight="bold" text-anchor="middle"  stroke="#000" stroke-width="0.12">2015</text><text x="469.459" y="596" font-size="11" fill="#000" font-weight="bold" text-anchor="middle"  stroke="#000" stroke-width="0.12">2015</text><text x="519.339" y="440" font-size="10" fill="#000" text-anchor="middle"  stroke="#000" stroke-width="0.22">Feb</text><text x="519.339" y="596" font-size="10" fill="#000" text-anchor="middle"  stroke="#000" stroke-width="0.22">Feb</text><text x="566.725" y="440" font-size="10" fill="#000" text-anchor="middle"  stroke="#000" stroke-width="0.22">Mar</text><text x="566.725" y="596" font-size="10" fill="#000" text-anchor="middle"  stroke="#000" stroke-width="0.22">Mar</text><text x="621.593" y="440" font-size="10" fill="#000" text-anchor="middle"  stroke="#000" stroke-width="0.22">Apr</text><text x="621.593" y="596" font-size="10" fill="#000" text-anchor="middle"  stroke="#000" stroke-width="0.22">Apr</text><text x="724.5" y="440" font-size="10" fill="#000" text-anchor="middle"  stroke="#000" stroke-width="0.22">23</text><text x="724.5" y="596" font-size="10" fill="#000" text-anchor="middle"  stroke="#000" stroke-width="0.22">23</text><text x="759.5" y="440" font-size="11" fill="#000" font-weight="bold" text-anchor="middle"  stroke="#000" stroke-width="0.12">Apr</text><text x="759.5" y="596" font-size="11" fill="#000" font-weight="bold" text-anchor="middle"  stroke="#000" stroke-width="0.12">Apr</text><text x="794.5" y="440" font-size="10" fill="#000" text-anchor="middle"  stroke="#000" stroke-width="0.22">13</text><text x="794.5" y="596" font-size="10" fill="#000" text-anchor="middle"  stroke="#000" stroke-width="0.22">13</text><text x="536.2" y="141.2" font-size="13" fill="#000" font-weight="bold" textLength="148.4" lengthAdjust="spacingAndGlyphs" stroke="#000" stroke-width="0.3">20-EMA Turned Down</text><text x="536.2" y="159.7" font-size="13" fill="#000" font-weight="bold" textLength="98.8" lengthAdjust="spacingAndGlyphs" stroke="#000" stroke-width="0.3">Below 50-EMA</text><text x="16.6" y="14.6" font-size="12.6" fill="#000" font-weight="bold" textLength="42.3" lengthAdjust="spacingAndGlyphs"  stroke="#000" stroke-width="0.12">$GOLD</text><text x="63.7" y="14.4" font-size="10.5" fill="#000" textLength="112.5" lengthAdjust="spacingAndGlyphs"  stroke="#000" stroke-width="0.22">Gold - Spot Price (EOD)</text><text x="182" y="14.4" font-size="9.5" fill="#000" textLength="21" lengthAdjust="spacingAndGlyphs"  stroke="#000" stroke-width="0.22">CME</text><text x="16.8" y="27" font-size="9.8" fill="#000" textLength="56.3" lengthAdjust="spacingAndGlyphs"  stroke="#000" stroke-width="0.22">14-Apr-2015</text><text x="168.3" y="26.8" font-size="10.6" fill="#000" font-weight="bold" textLength="27.8" lengthAdjust="spacingAndGlyphs"  stroke="#000" stroke-width="0.12">Open</text><text x="200.7" y="26.8" font-size="10" fill="#000" textLength="37.5" lengthAdjust="spacingAndGlyphs"  stroke="#000" stroke-width="0.22">1198.80</text><text x="244.7" y="26.8" font-size="10.6" fill="#000" font-weight="bold" textLength="22.9" lengthAdjust="spacingAndGlyphs"  stroke="#000" stroke-width="0.12">High</text><text x="272.2" y="26.8" font-size="10" fill="#000" textLength="37.6" lengthAdjust="spacingAndGlyphs"  stroke="#000" stroke-width="0.22">1201.30</text><text x="316.6" y="26.8" font-size="10.6" fill="#000" font-weight="bold" textLength="22.9" lengthAdjust="spacingAndGlyphs"  stroke="#000" stroke-width="0.12">Low</text><text x="344.1" y="26.8" font-size="10" fill="#000" textLength="37.6" lengthAdjust="spacingAndGlyphs"  stroke="#000" stroke-width="0.22">1183.50</text><text x="388.4" y="26.8" font-size="10.6" fill="#000" font-weight="bold" textLength="30.6" lengthAdjust="spacingAndGlyphs"  stroke="#000" stroke-width="0.12">Close</text><text x="424.5" y="26.8" font-size="10" fill="#000" textLength="37.5" lengthAdjust="spacingAndGlyphs"  stroke="#000" stroke-width="0.22">1191.90</text><text x="470" y="26.8" font-size="10.6" fill="#000" font-weight="bold" textLength="41" lengthAdjust="spacingAndGlyphs"  stroke="#000" stroke-width="0.12">Volume</text><text x="515" y="26.8" font-size="10" fill="#000" textLength="33.5" lengthAdjust="spacingAndGlyphs"  stroke="#000" stroke-width="0.22">153.7K</text><text x="555" y="26.8" font-size="10.6" fill="#000" font-weight="bold" textLength="21" lengthAdjust="spacingAndGlyphs"  stroke="#000" stroke-width="0.12">Chg</text><text x="579.7" y="26.8" font-size="10" fill="#000" textLength="66.1" lengthAdjust="spacingAndGlyphs"  stroke="#000" stroke-width="0.22">-6.70 (-0.56%)</text><text x="567" y="13.5" font-size="10" fill="#5a5238" textLength="89" lengthAdjust="spacingAndGlyphs"  stroke="#5a5238" stroke-width="0.22">© StockCharts.com</text><text x="32.2" y="40" font-size="9.7" textLength="218.6" lengthAdjust="spacingAndGlyphs" stroke="#000" stroke-width="0.2">Gold - Spot Price (EOD) (Daily) 1191.90</text><text x="29.4" y="51.25" font-size="9.5" fill="#006400" textLength="74.4" lengthAdjust="spacingAndGlyphs"  stroke="#006400" stroke-width="0.22">EMA(20) 1195.43</text><text x="29.4" y="62.1" font-size="9.5" fill="#9a38ee" textLength="75.1" lengthAdjust="spacingAndGlyphs"  stroke="#9a38ee" stroke-width="0.22">EMA(50) 1200.34</text><text x="29.4" y="73" font-size="9.5" fill="#00008c" textLength="80.1" lengthAdjust="spacingAndGlyphs"  stroke="#00008c" stroke-width="0.22">EMA(200) 1230.40</text><text x="31" y="453.8" font-size="9.7" textLength="121.5" lengthAdjust="spacingAndGlyphs" stroke="#000" stroke-width="0.2">PMO(35,20,10) -0.09,</text><text x="158.4" y="453.8" font-size="9.7" fill="#b00030" textLength="28.5" lengthAdjust="spacingAndGlyphs" stroke="#b00030" stroke-width="0.2">-0.33</text></g>
</svg></body></html>
